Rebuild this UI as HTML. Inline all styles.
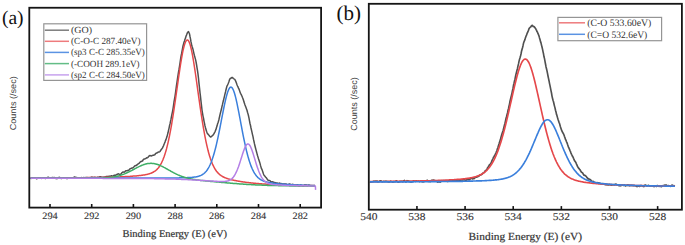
<!DOCTYPE html>
<html><head><meta charset="utf-8"><style>
html,body{margin:0;padding:0;background:#fff;}
body{width:685px;height:245px;overflow:hidden;}
svg{display:block;}
text{font-family:"Liberation Serif",serif;text-rendering:geometricPrecision;fill:#2a2a2a;stroke:#2a2a2a;stroke-width:0.3px;}
.tk{font-size:9.7px;stroke-width:0.12px;fill:#333;stroke:#333;}
.tk2{font-size:10.4px;stroke-width:0.12px;fill:#333;stroke:#333;}
.ax{font-size:10.3px;stroke-width:0.2px;fill:#333;stroke:#333;}
.ax2{font-size:10.9px;stroke-width:0.2px;fill:#333;stroke:#333;}
.yl{font-family:"Liberation Sans",sans-serif;font-size:8.6px;fill:#3a3a3a;stroke:none;}
.yl2{font-family:"Liberation Sans",sans-serif;font-size:8.8px;fill:#3a3a3a;stroke:none;}
.pl{font-size:19.5px;fill:#111;stroke:none;}
.pl2{font-size:21px;fill:#111;stroke:none;}
.lg{font-size:9.4px;stroke:none;fill:#333;}
.lg2{font-size:9.9px;stroke:none;fill:#333;}
</style></head><body>
<svg width="685" height="245" viewBox="0 0 685 245">
<g fill="none" stroke-width="1.50" stroke-linejoin="round">
<path d="M30.5,178.6 L31.0,178.6 L31.5,178.0 L32.0,177.8 L32.5,177.7 L33.0,178.1 L33.5,178.0 L34.0,178.1 L34.5,178.0 L35.0,177.9 L35.5,178.0 L36.0,178.3 L36.5,178.8 L37.0,178.7 L37.5,178.4 L38.0,178.0 L38.5,177.7 L39.0,178.0 L39.5,177.9 L40.0,177.9 L40.5,177.7 L41.0,178.2 L41.5,178.4 L42.0,178.3 L42.5,177.9 L43.0,177.9 L43.5,178.1 L44.0,178.1 L44.5,177.9 L45.0,178.1 L45.5,178.6 L46.0,178.4 L46.5,178.1 L47.0,177.6 L47.5,177.4 L48.0,177.3 L48.5,177.3 L49.0,177.9 L49.5,178.1 L50.0,178.0 L50.5,177.9 L51.0,177.8 L51.5,177.8 L52.0,177.6 L52.5,177.5 L53.0,177.7 L53.5,177.8 L54.0,177.5 L54.5,177.6 L55.0,177.8 L55.5,178.3 L56.0,178.6 L56.5,178.6 L57.0,178.7 L57.5,178.3 L58.0,178.3 L58.5,177.6 L59.0,177.7 L59.5,177.2 L60.0,177.7 L60.5,178.1 L61.0,178.4 L61.5,178.5 L62.0,178.2 L62.5,178.2 L63.0,177.9 L63.5,177.8 L64.0,177.9 L64.5,178.2 L65.0,178.2 L65.5,178.3 L66.0,177.9 L66.5,178.4 L67.0,178.3 L67.5,178.5 L68.0,178.3 L68.5,178.2 L69.0,177.8 L69.5,178.0 L70.0,177.7 L70.5,178.0 L71.0,177.8 L71.5,177.9 L72.0,177.9 L72.5,178.0 L73.0,178.1 L73.5,177.9 L74.0,177.2 L74.5,177.0 L75.0,177.0 L75.5,177.5 L76.0,177.5 L76.5,177.6 L77.0,177.6 L77.5,177.8 L78.0,177.8 L78.5,177.7 L79.0,177.7 L79.5,178.0 L80.0,178.3 L80.5,178.1 L81.0,177.7 L81.5,177.6 L82.0,178.1 L82.5,178.1 L83.0,177.9 L83.5,177.5 L84.0,177.6 L84.5,177.7 L85.0,177.8 L85.5,177.6 L86.0,177.5 L86.5,177.7 L87.0,177.6 L87.5,177.7 L88.0,177.8 L88.5,178.0 L89.0,177.7 L89.5,177.8 L90.0,177.6 L90.5,177.8 L91.0,177.4 L91.5,177.2 L92.0,177.1 L92.5,177.3 L93.0,177.6 L93.5,177.6 L94.0,177.4 L94.5,177.3 L95.0,177.2 L95.5,177.6 L96.0,177.9 L96.5,177.8 L97.0,177.5 L97.5,177.3 L98.0,177.3 L98.5,177.3 L99.0,177.3 L99.5,177.0 L100.0,176.7 L100.5,176.7 L101.0,177.0 L101.5,177.4 L102.0,177.2 L102.5,177.3 L103.0,177.1 L103.5,177.2 L104.0,177.2 L104.5,177.1 L105.0,176.9 L105.5,176.9 L106.0,176.6 L106.5,176.7 L107.0,176.4 L107.5,176.7 L108.0,176.5 L108.5,176.4 L109.0,176.2 L109.5,176.5 L110.0,176.3 L110.5,176.2 L111.0,175.9 L111.5,175.7 L112.0,176.1 L112.5,176.1 L113.0,175.9 L113.5,175.6 L114.0,175.3 L114.5,175.5 L115.0,175.3 L115.5,175.3 L116.0,175.0 L116.5,174.6 L117.0,174.6 L117.5,174.2 L118.0,173.9 L118.5,173.8 L119.0,174.1 L119.5,174.3 L120.0,174.4 L120.5,174.2 L121.0,173.8 L121.5,173.3 L122.0,172.6 L122.5,172.3 L123.0,171.9 L123.5,172.1 L124.0,172.2 L124.5,172.0 L125.0,171.6 L125.5,171.0 L126.0,170.8 L126.5,170.7 L127.0,170.8 L127.5,170.4 L128.0,170.5 L128.5,170.3 L129.0,170.2 L129.5,169.4 L130.0,168.9 L130.5,168.6 L131.0,168.4 L131.5,168.2 L132.0,168.0 L132.5,168.0 L133.0,167.8 L133.5,167.3 L134.0,166.8 L134.5,166.2 L135.0,165.8 L135.5,165.7 L136.0,165.4 L136.5,165.5 L137.0,164.7 L137.5,164.5 L138.0,164.0 L138.5,163.7 L139.0,163.4 L139.5,162.8 L140.0,162.3 L140.5,161.8 L141.0,161.4 L141.5,161.4 L142.0,161.0 L142.5,161.1 L143.0,159.9 L143.5,159.6 L144.0,159.0 L144.5,159.1 L145.0,158.9 L145.5,158.6 L146.0,158.3 L146.5,157.8 L147.0,157.9 L147.5,157.7 L148.0,157.4 L148.5,156.5 L149.0,156.2 L149.5,155.7 L150.0,155.5 L150.5,155.7 L151.0,155.9 L151.5,155.9 L152.0,155.5 L152.5,155.5 L153.0,155.3 L153.5,155.3 L154.0,155.0 L154.5,154.8 L155.0,154.5 L155.5,153.7 L156.0,153.4 L156.5,152.9 L157.0,152.9 L157.5,152.7 L158.0,152.2 L158.5,151.9 L159.0,152.1 L159.5,151.9 L160.0,151.5 L160.5,150.7 L161.0,149.9 L161.5,149.4 L162.0,148.5 L162.5,148.0 L163.0,146.7 L163.5,145.8 L164.0,144.4 L164.5,143.3 L165.0,142.1 L165.5,140.6 L166.0,139.6 L166.5,138.0 L167.0,136.6 L167.5,134.6 L168.0,132.8 L168.5,130.4 L169.0,128.3 L169.5,125.8 L170.0,123.9 L170.5,121.5 L171.0,119.2 L171.5,116.4 L172.0,114.0 L172.5,111.6 L173.0,108.8 L173.5,105.5 L174.0,102.0 L174.5,99.2 L175.0,96.3 L175.5,92.8 L176.0,89.2 L176.5,85.3 L177.0,82.0 L177.5,78.5 L178.0,75.4 L178.5,72.1 L179.0,69.4 L179.5,66.3 L180.0,63.1 L180.5,59.6 L181.0,56.4 L181.5,54.0 L182.0,51.3 L182.5,48.6 L183.0,46.0 L183.5,44.1 L184.0,42.3 L184.5,40.9 L185.0,39.3 L185.5,38.1 L186.0,36.3 L186.5,35.1 L187.0,33.8 L187.5,32.6 L188.0,32.0 L188.5,31.6 L189.0,32.7 L189.5,33.8 L190.0,36.5 L190.5,38.9 L191.0,41.9 L191.5,44.2 L192.0,46.2 L192.5,47.7 L193.0,49.4 L193.5,51.6 L194.0,53.8 L194.5,55.8 L195.0,57.6 L195.5,59.4 L196.0,61.6 L196.5,64.5 L197.0,67.7 L197.5,70.7 L198.0,74.2 L198.5,78.4 L199.0,83.4 L199.5,87.8 L200.0,92.6 L200.5,96.6 L201.0,101.3 L201.5,105.6 L202.0,110.1 L202.5,113.2 L203.0,116.1 L203.5,118.2 L204.0,121.1 L204.5,123.4 L205.0,125.9 L205.5,127.8 L206.0,129.5 L206.5,131.3 L207.0,132.6 L207.5,133.7 L208.0,134.1 L208.5,134.7 L209.0,135.2 L209.5,136.0 L210.0,136.5 L210.5,137.0 L211.0,136.8 L211.5,136.5 L212.0,136.0 L212.5,135.6 L213.0,135.2 L213.5,134.3 L214.0,133.7 L214.5,132.6 L215.0,131.8 L215.5,130.4 L216.0,129.4 L216.5,127.5 L217.0,126.1 L217.5,124.1 L218.0,122.8 L218.5,121.1 L219.0,119.2 L219.5,117.0 L220.0,114.6 L220.5,112.8 L221.0,110.7 L221.5,108.8 L222.0,106.4 L222.5,104.4 L223.0,102.1 L223.5,100.3 L224.0,98.2 L224.5,96.1 L225.0,93.9 L225.5,92.0 L226.0,89.7 L226.5,87.7 L227.0,86.0 L227.5,85.1 L228.0,84.0 L228.5,82.8 L229.0,81.4 L229.5,79.8 L230.0,78.8 L230.5,78.3 L231.0,78.2 L231.5,77.7 L232.0,77.5 L232.5,77.4 L233.0,78.2 L233.5,78.6 L234.0,78.9 L234.5,79.1 L235.0,79.8 L235.5,80.7 L236.0,81.9 L236.5,83.3 L237.0,84.7 L237.5,86.0 L238.0,86.9 L238.5,88.1 L239.0,89.1 L239.5,90.5 L240.0,91.9 L240.5,93.3 L241.0,94.2 L241.5,95.2 L242.0,96.3 L242.5,97.6 L243.0,98.7 L243.5,100.3 L244.0,102.1 L244.5,103.5 L245.0,104.9 L245.5,106.2 L246.0,107.5 L246.5,108.9 L247.0,110.3 L247.5,112.3 L248.0,113.9 L248.5,115.8 L249.0,118.1 L249.5,120.8 L250.0,123.5 L250.5,125.5 L251.0,128.0 L251.5,130.2 L252.0,132.4 L252.5,134.6 L253.0,136.7 L253.5,139.4 L254.0,141.5 L254.5,143.9 L255.0,146.0 L255.5,148.0 L256.0,149.9 L256.5,151.8 L257.0,153.6 L257.5,155.5 L258.0,157.1 L258.5,158.8 L259.0,160.2 L259.5,161.7 L260.0,163.4 L260.5,165.4 L261.0,167.1 L261.5,168.7 L262.0,169.6 L262.5,171.0 L263.0,172.5 L263.5,174.0 L264.0,175.1 L264.5,175.8 L265.0,176.3 L265.5,177.0 L266.0,177.5 L266.5,178.1 L267.0,178.8 L267.5,179.6 L268.0,180.2 L268.5,180.5 L269.0,180.4 L269.5,180.6 L270.0,180.7 L270.5,181.3 L271.0,181.6 L271.5,182.1 L272.0,182.0 L272.5,181.8 L273.0,181.9 L273.5,182.4 L274.0,182.5 L274.5,182.5 L275.0,182.6 L275.5,182.8 L276.0,183.2 L276.5,183.0 L277.0,183.1 L277.5,183.1 L278.0,183.3 L278.5,183.5 L279.0,183.5 L279.5,183.1 L280.0,183.7 L280.5,183.4 L281.0,183.9 L281.5,183.6 L282.0,183.9 L282.5,184.0 L283.0,184.0 L283.5,184.1 L284.0,184.0 L284.5,184.1 L285.0,183.9 L285.5,183.9 L286.0,183.9 L286.5,184.2 L287.0,184.4 L287.5,184.8 L288.0,184.7 L288.5,184.6 L289.0,184.1 L289.5,183.9 L290.0,184.2 L290.5,184.6 L291.0,184.6 L291.5,184.8 L292.0,184.5 L292.5,184.5 L293.0,184.3 L293.5,185.1 L294.0,185.4 L294.5,185.3 L295.0,185.0 L295.5,185.1 L296.0,185.5 L296.5,185.3 L297.0,185.1 L297.5,185.0 L298.0,185.2 L298.5,185.6 L299.0,186.0 L299.5,185.8 L300.0,185.5 L300.5,185.1 L301.0,185.2 L301.5,185.4 L302.0,185.6 L302.5,185.7 L303.0,185.9 L303.5,185.8 L304.0,185.6 L304.5,185.0 L305.0,184.9 L305.5,184.9 L306.0,184.9 L306.5,185.2 L307.0,185.5 L307.5,185.8 L308.0,185.5 L308.5,185.2 L309.0,185.1 L309.5,185.6 L310.0,185.5 L310.5,185.8 L311.0,185.6 L311.5,186.0 L312.0,186.0 L312.5,186.0 L313.0,185.8 L313.5,185.9 L314.0,186.1 L314.5,186.1 L315.0,186.0" stroke="#505050"/>
<path d="M30.5,178.0 L31.0,178.0 L31.5,178.0 L32.0,178.0 L32.5,178.0 L33.0,178.0 L33.5,178.0 L34.0,178.0 L34.5,178.0 L35.0,178.0 L35.5,178.0 L36.0,178.0 L36.5,178.0 L37.0,178.0 L37.5,178.0 L38.0,178.0 L38.5,178.0 L39.0,178.0 L39.5,178.0 L40.0,178.0 L40.5,178.0 L41.0,178.0 L41.5,178.0 L42.0,178.0 L42.5,178.0 L43.0,178.0 L43.5,178.0 L44.0,178.0 L44.5,178.0 L45.0,178.0 L45.5,178.0 L46.0,178.0 L46.5,178.0 L47.0,178.0 L47.5,178.0 L48.0,178.0 L48.5,178.0 L49.0,178.0 L49.5,178.0 L50.0,178.0 L50.5,178.0 L51.0,178.0 L51.5,178.0 L52.0,177.9 L52.5,177.9 L53.0,177.9 L53.5,177.9 L54.0,177.9 L54.5,177.9 L55.0,177.9 L55.5,177.9 L56.0,177.9 L56.5,177.9 L57.0,177.9 L57.5,177.9 L58.0,177.9 L58.5,177.9 L59.0,177.9 L59.5,177.9 L60.0,177.9 L60.5,177.9 L61.0,177.9 L61.5,177.9 L62.0,177.9 L62.5,177.9 L63.0,177.9 L63.5,177.9 L64.0,177.9 L64.5,177.9 L65.0,177.9 L65.5,177.9 L66.0,177.9 L66.5,177.9 L67.0,177.8 L67.5,177.8 L68.0,177.8 L68.5,177.8 L69.0,177.8 L69.5,177.8 L70.0,177.8 L70.5,177.8 L71.0,177.8 L71.5,177.8 L72.0,177.8 L72.5,177.8 L73.0,177.8 L73.5,177.8 L74.0,177.8 L74.5,177.8 L75.0,177.8 L75.5,177.8 L76.0,177.8 L76.5,177.8 L77.0,177.8 L77.5,177.8 L78.0,177.7 L78.5,177.7 L79.0,177.7 L79.5,177.7 L80.0,177.7 L80.5,177.7 L81.0,177.7 L81.5,177.7 L82.0,177.7 L82.5,177.7 L83.0,177.7 L83.5,177.7 L84.0,177.7 L84.5,177.7 L85.0,177.7 L85.5,177.7 L86.0,177.7 L86.5,177.7 L87.0,177.6 L87.5,177.6 L88.0,177.6 L88.5,177.6 L89.0,177.6 L89.5,177.6 L90.0,177.6 L90.5,177.6 L91.0,177.6 L91.5,177.6 L92.0,177.6 L92.5,177.6 L93.0,177.6 L93.5,177.5 L94.0,177.5 L94.5,177.5 L95.0,177.5 L95.5,177.5 L96.0,177.5 L96.5,177.5 L97.0,177.5 L97.5,177.5 L98.0,177.5 L98.5,177.5 L99.0,177.5 L99.5,177.4 L100.0,177.4 L100.5,177.4 L101.0,177.4 L101.5,177.4 L102.0,177.4 L102.5,177.4 L103.0,177.4 L103.5,177.4 L104.0,177.4 L104.5,177.3 L105.0,177.3 L105.5,177.3 L106.0,177.3 L106.5,177.3 L107.0,177.3 L107.5,177.3 L108.0,177.3 L108.5,177.2 L109.0,177.2 L109.5,177.2 L110.0,177.2 L110.5,177.2 L111.0,177.2 L111.5,177.2 L112.0,177.1 L112.5,177.1 L113.0,177.1 L113.5,177.1 L114.0,177.1 L114.5,177.1 L115.0,177.1 L115.5,177.0 L116.0,177.0 L116.5,177.0 L117.0,177.0 L117.5,177.0 L118.0,176.9 L118.5,176.9 L119.0,176.9 L119.5,176.9 L120.0,176.9 L120.5,176.8 L121.0,176.8 L121.5,176.8 L122.0,176.8 L122.5,176.8 L123.0,176.7 L123.5,176.7 L124.0,176.7 L124.5,176.7 L125.0,176.6 L125.5,176.6 L126.0,176.6 L126.5,176.6 L127.0,176.5 L127.5,176.5 L128.0,176.5 L128.5,176.4 L129.0,176.4 L129.5,176.4 L130.0,176.4 L130.5,176.3 L131.0,176.3 L131.5,176.3 L132.0,176.2 L132.5,176.2 L133.0,176.1 L133.5,176.1 L134.0,176.1 L134.5,176.0 L135.0,176.0 L135.5,175.9 L136.0,175.9 L136.5,175.9 L137.0,175.8 L137.5,175.8 L138.0,175.7 L138.5,175.7 L139.0,175.6 L139.5,175.6 L140.0,175.5 L140.5,175.4 L141.0,175.4 L141.5,175.3 L142.0,175.2 L142.5,175.2 L143.0,175.1 L143.5,175.0 L144.0,174.9 L144.5,174.9 L145.0,174.8 L145.5,174.7 L146.0,174.6 L146.5,174.5 L147.0,174.4 L147.5,174.3 L148.0,174.1 L148.5,174.0 L149.0,173.9 L149.5,173.7 L150.0,173.6 L150.5,173.4 L151.0,173.2 L151.5,173.0 L152.0,172.8 L152.5,172.5 L153.0,172.3 L153.5,172.0 L154.0,171.7 L154.5,171.4 L155.0,171.1 L155.5,170.7 L156.0,170.3 L156.5,169.8 L157.0,169.4 L157.5,168.8 L158.0,168.3 L158.5,167.7 L159.0,167.0 L159.5,166.3 L160.0,165.5 L160.5,164.7 L161.0,163.8 L161.5,162.9 L162.0,161.8 L162.5,160.7 L163.0,159.6 L163.5,158.3 L164.0,157.0 L164.5,155.5 L165.0,154.0 L165.5,152.4 L166.0,150.7 L166.5,148.9 L167.0,146.9 L167.5,144.9 L168.0,142.8 L168.5,140.6 L169.0,138.2 L169.5,135.8 L170.0,133.2 L170.5,130.6 L171.0,127.8 L171.5,125.0 L172.0,122.0 L172.5,119.0 L173.0,115.9 L173.5,112.7 L174.0,109.4 L174.5,106.0 L175.0,102.6 L175.5,99.2 L176.0,95.7 L176.5,92.2 L177.0,88.6 L177.5,85.1 L178.0,81.6 L178.5,78.1 L179.0,74.7 L179.5,71.3 L180.0,68.0 L180.5,64.7 L181.0,61.6 L181.5,58.7 L182.0,55.9 L182.5,53.2 L183.0,50.7 L183.5,48.5 L184.0,46.5 L184.5,44.7 L185.0,43.2 L185.5,42.0 L186.0,41.0 L186.5,40.4 L187.0,40.0 L187.5,40.0 L188.0,40.2 L188.5,40.8 L189.0,41.7 L189.5,42.9 L190.0,44.3 L190.5,46.0 L191.0,48.0 L191.5,50.2 L192.0,52.6 L192.5,55.2 L193.0,58.0 L193.5,61.0 L194.0,64.1 L194.5,67.3 L195.0,70.6 L195.5,74.0 L196.0,77.5 L196.5,81.0 L197.0,84.6 L197.5,88.2 L198.0,91.8 L198.5,95.3 L199.0,98.9 L199.5,102.4 L200.0,105.9 L200.5,109.3 L201.0,112.7 L201.5,116.0 L202.0,119.2 L202.5,122.3 L203.0,125.4 L203.5,128.3 L204.0,131.2 L204.5,133.9 L205.0,136.6 L205.5,139.1 L206.0,141.6 L206.5,143.9 L207.0,146.1 L207.5,148.2 L208.0,150.3 L208.5,152.2 L209.0,154.0 L209.5,155.7 L210.0,157.3 L210.5,158.9 L211.0,160.3 L211.5,161.6 L212.0,162.9 L212.5,164.1 L213.0,165.2 L213.5,166.2 L214.0,167.2 L214.5,168.1 L215.0,169.0 L215.5,169.8 L216.0,170.5 L216.5,171.2 L217.0,171.8 L217.5,172.4 L218.0,172.9 L218.5,173.5 L219.0,173.9 L219.5,174.4 L220.0,174.8 L220.5,175.2 L221.0,175.5 L221.5,175.9 L222.0,176.2 L222.5,176.5 L223.0,176.8 L223.5,177.0 L224.0,177.3 L224.5,177.5 L225.0,177.7 L225.5,177.9 L226.0,178.1 L226.5,178.3 L227.0,178.5 L227.5,178.6 L228.0,178.8 L228.5,178.9 L229.0,179.1 L229.5,179.2 L230.0,179.4 L230.5,179.5 L231.0,179.6 L231.5,179.8 L232.0,179.9 L232.5,180.0 L233.0,180.1 L233.5,180.2 L234.0,180.3 L234.5,180.4 L235.0,180.5 L235.5,180.6 L236.0,180.7 L236.5,180.8 L237.0,180.9 L237.5,181.0 L238.0,181.1 L238.5,181.2 L239.0,181.3 L239.5,181.3 L240.0,181.4 L240.5,181.5 L241.0,181.6 L241.5,181.7 L242.0,181.7 L242.5,181.8 L243.0,181.9 L243.5,182.0 L244.0,182.0 L244.5,182.1 L245.0,182.2 L245.5,182.2 L246.0,182.3 L246.5,182.4 L247.0,182.4 L247.5,182.5 L248.0,182.6 L248.5,182.6 L249.0,182.7 L249.5,182.7 L250.0,182.8 L250.5,182.8 L251.0,182.9 L251.5,182.9 L252.0,183.0 L252.5,183.1 L253.0,183.1 L253.5,183.2 L254.0,183.2 L254.5,183.3 L255.0,183.3 L255.5,183.3 L256.0,183.4 L256.5,183.4 L257.0,183.5 L257.5,183.5 L258.0,183.6 L258.5,183.6 L259.0,183.7 L259.5,183.7 L260.0,183.7 L260.5,183.8 L261.0,183.8 L261.5,183.8 L262.0,183.9 L262.5,183.9 L263.0,184.0 L263.5,184.0 L264.0,184.0 L264.5,184.1 L265.0,184.1 L265.5,184.1 L266.0,184.2 L266.5,184.2 L267.0,184.2 L267.5,184.2 L268.0,184.3 L268.5,184.3 L269.0,184.3 L269.5,184.4 L270.0,184.4 L270.5,184.4 L271.0,184.4 L271.5,184.5 L272.0,184.5 L272.5,184.5 L273.0,184.5 L273.5,184.6 L274.0,184.6 L274.5,184.6 L275.0,184.6 L275.5,184.7 L276.0,184.7 L276.5,184.7 L277.0,184.7 L277.5,184.8 L278.0,184.8 L278.5,184.8 L279.0,184.8 L279.5,184.8 L280.0,184.9 L280.5,184.9 L281.0,184.9 L281.5,184.9 L282.0,184.9 L282.5,184.9 L283.0,185.0 L283.5,185.0 L284.0,185.0 L284.5,185.0 L285.0,185.0 L285.5,185.0 L286.0,185.1 L286.5,185.1 L287.0,185.1 L287.5,185.1 L288.0,185.1 L288.5,185.1 L289.0,185.2 L289.5,185.2 L290.0,185.2 L290.5,185.2 L291.0,185.2 L291.5,185.2 L292.0,185.2 L292.5,185.2 L293.0,185.3 L293.5,185.3 L294.0,185.3 L294.5,185.3 L295.0,185.3 L295.5,185.3 L296.0,185.3 L296.5,185.3 L297.0,185.3 L297.5,185.4 L298.0,185.4 L298.5,185.4 L299.0,185.4 L299.5,185.4 L300.0,185.4 L300.5,185.4 L301.0,185.4 L301.5,185.4 L302.0,185.4 L302.5,185.5 L303.0,185.5 L303.5,185.5 L304.0,185.5 L304.5,185.5 L305.0,185.5 L305.5,185.5 L306.0,185.5 L306.5,185.5 L307.0,185.5 L307.5,185.5 L308.0,185.5 L308.5,185.5 L309.0,185.6 L309.5,185.6 L310.0,185.6 L310.5,185.6 L311.0,185.6 L311.5,185.6 L312.0,185.6 L312.5,185.6 L313.0,185.6 L313.5,185.6 L314.0,185.6 L314.5,185.6 L315.0,185.6" stroke="#e5484b"/>
<path d="M30.5,178.2 L31.0,178.2 L31.5,178.2 L32.0,178.2 L32.5,178.2 L33.0,178.2 L33.5,178.2 L34.0,178.2 L34.5,178.2 L35.0,178.2 L35.5,178.2 L36.0,178.2 L36.5,178.2 L37.0,178.2 L37.5,178.2 L38.0,178.2 L38.5,178.2 L39.0,178.2 L39.5,178.2 L40.0,178.2 L40.5,178.2 L41.0,178.2 L41.5,178.2 L42.0,178.2 L42.5,178.2 L43.0,178.2 L43.5,178.2 L44.0,178.2 L44.5,178.2 L45.0,178.2 L45.5,178.2 L46.0,178.2 L46.5,178.2 L47.0,178.2 L47.5,178.2 L48.0,178.2 L48.5,178.2 L49.0,178.2 L49.5,178.2 L50.0,178.2 L50.5,178.2 L51.0,178.2 L51.5,178.2 L52.0,178.2 L52.5,178.2 L53.0,178.2 L53.5,178.2 L54.0,178.2 L54.5,178.2 L55.0,178.2 L55.5,178.2 L56.0,178.2 L56.5,178.2 L57.0,178.2 L57.5,178.2 L58.0,178.2 L58.5,178.2 L59.0,178.2 L59.5,178.2 L60.0,178.2 L60.5,178.2 L61.0,178.2 L61.5,178.2 L62.0,178.2 L62.5,178.2 L63.0,178.2 L63.5,178.2 L64.0,178.2 L64.5,178.2 L65.0,178.2 L65.5,178.2 L66.0,178.2 L66.5,178.2 L67.0,178.2 L67.5,178.2 L68.0,178.2 L68.5,178.2 L69.0,178.2 L69.5,178.2 L70.0,178.2 L70.5,178.2 L71.0,178.2 L71.5,178.2 L72.0,178.2 L72.5,178.2 L73.0,178.2 L73.5,178.2 L74.0,178.2 L74.5,178.2 L75.0,178.2 L75.5,178.2 L76.0,178.2 L76.5,178.2 L77.0,178.2 L77.5,178.2 L78.0,178.2 L78.5,178.2 L79.0,178.2 L79.5,178.2 L80.0,178.2 L80.5,178.2 L81.0,178.2 L81.5,178.2 L82.0,178.2 L82.5,178.2 L83.0,178.2 L83.5,178.2 L84.0,178.2 L84.5,178.2 L85.0,178.2 L85.5,178.2 L86.0,178.2 L86.5,178.2 L87.0,178.1 L87.5,178.1 L88.0,178.1 L88.5,178.1 L89.0,178.1 L89.5,178.1 L90.0,178.1 L90.5,178.1 L91.0,178.1 L91.5,178.1 L92.0,178.1 L92.5,178.1 L93.0,178.1 L93.5,178.1 L94.0,178.1 L94.5,178.1 L95.0,178.1 L95.5,178.1 L96.0,178.1 L96.5,178.1 L97.0,178.1 L97.5,178.1 L98.0,178.1 L98.5,178.1 L99.0,178.1 L99.5,178.1 L100.0,178.1 L100.5,178.1 L101.0,178.1 L101.5,178.1 L102.0,178.1 L102.5,178.1 L103.0,178.1 L103.5,178.1 L104.0,178.1 L104.5,178.1 L105.0,178.1 L105.5,178.1 L106.0,178.1 L106.5,178.1 L107.0,178.1 L107.5,178.1 L108.0,178.1 L108.5,178.1 L109.0,178.1 L109.5,178.1 L110.0,178.1 L110.5,178.1 L111.0,178.1 L111.5,178.1 L112.0,178.1 L112.5,178.1 L113.0,178.1 L113.5,178.1 L114.0,178.1 L114.5,178.1 L115.0,178.1 L115.5,178.1 L116.0,178.1 L116.5,178.1 L117.0,178.1 L117.5,178.1 L118.0,178.1 L118.5,178.1 L119.0,178.1 L119.5,178.1 L120.0,178.1 L120.5,178.1 L121.0,178.1 L121.5,178.1 L122.0,178.1 L122.5,178.1 L123.0,178.1 L123.5,178.1 L124.0,178.1 L124.5,178.1 L125.0,178.1 L125.5,178.1 L126.0,178.1 L126.5,178.1 L127.0,178.1 L127.5,178.1 L128.0,178.1 L128.5,178.1 L129.0,178.0 L129.5,178.0 L130.0,178.0 L130.5,178.0 L131.0,178.0 L131.5,178.0 L132.0,178.0 L132.5,178.0 L133.0,178.0 L133.5,178.0 L134.0,178.0 L134.5,178.0 L135.0,178.0 L135.5,178.0 L136.0,178.0 L136.5,178.0 L137.0,178.0 L137.5,178.0 L138.0,178.0 L138.5,178.0 L139.0,178.0 L139.5,178.0 L140.0,178.0 L140.5,178.0 L141.0,178.0 L141.5,178.0 L142.0,178.0 L142.5,178.0 L143.0,178.0 L143.5,178.0 L144.0,178.0 L144.5,178.0 L145.0,178.0 L145.5,178.0 L146.0,178.0 L146.5,178.0 L147.0,178.0 L147.5,178.0 L148.0,178.0 L148.5,178.0 L149.0,178.0 L149.5,178.0 L150.0,178.0 L150.5,178.0 L151.0,178.0 L151.5,178.0 L152.0,178.0 L152.5,178.0 L153.0,178.0 L153.5,178.0 L154.0,178.0 L154.5,178.0 L155.0,178.0 L155.5,178.0 L156.0,178.0 L156.5,178.0 L157.0,178.0 L157.5,178.0 L158.0,178.0 L158.5,178.0 L159.0,178.0 L159.5,178.0 L160.0,178.0 L160.5,178.0 L161.0,178.0 L161.5,178.0 L162.0,178.0 L162.5,178.0 L163.0,178.0 L163.5,178.0 L164.0,178.0 L164.5,178.0 L165.0,178.0 L165.5,178.0 L166.0,178.0 L166.5,178.0 L167.0,178.0 L167.5,178.0 L168.0,178.0 L168.5,177.9 L169.0,177.9 L169.5,177.9 L170.0,177.9 L170.5,177.9 L171.0,177.9 L171.5,177.9 L172.0,177.9 L172.5,177.9 L173.0,177.9 L173.5,177.9 L174.0,177.9 L174.5,177.9 L175.0,177.9 L175.5,177.9 L176.0,177.9 L176.5,177.9 L177.0,177.9 L177.5,177.9 L178.0,177.9 L178.5,177.9 L179.0,177.9 L179.5,177.8 L180.0,177.8 L180.5,177.8 L181.0,177.8 L181.5,177.8 L182.0,177.8 L182.5,177.8 L183.0,177.8 L183.5,177.8 L184.0,177.8 L184.5,177.7 L185.0,177.7 L185.5,177.7 L186.0,177.7 L186.5,177.7 L187.0,177.7 L187.5,177.6 L188.0,177.6 L188.5,177.6 L189.0,177.6 L189.5,177.5 L190.0,177.5 L190.5,177.5 L191.0,177.4 L191.5,177.4 L192.0,177.4 L192.5,177.3 L193.0,177.3 L193.5,177.2 L194.0,177.1 L194.5,177.1 L195.0,177.0 L195.5,176.9 L196.0,176.9 L196.5,176.8 L197.0,176.7 L197.5,176.5 L198.0,176.4 L198.5,176.3 L199.0,176.1 L199.5,176.0 L200.0,175.8 L200.5,175.6 L201.0,175.4 L201.5,175.1 L202.0,174.8 L202.5,174.5 L203.0,174.2 L203.5,173.9 L204.0,173.5 L204.5,173.0 L205.0,172.6 L205.5,172.0 L206.0,171.5 L206.5,170.9 L207.0,170.2 L207.5,169.5 L208.0,168.7 L208.5,167.9 L209.0,167.0 L209.5,166.0 L210.0,165.0 L210.5,163.8 L211.0,162.7 L211.5,161.4 L212.0,160.0 L212.5,158.6 L213.0,157.1 L213.5,155.5 L214.0,153.8 L214.5,152.0 L215.0,150.1 L215.5,148.2 L216.0,146.2 L216.5,144.1 L217.0,141.9 L217.5,139.6 L218.0,137.3 L218.5,134.9 L219.0,132.5 L219.5,130.0 L220.0,127.5 L220.5,124.9 L221.0,122.3 L221.5,119.7 L222.0,117.2 L222.5,114.6 L223.0,112.0 L223.5,109.5 L224.0,107.0 L224.5,104.6 L225.0,102.3 L225.5,100.1 L226.0,98.0 L226.5,96.1 L227.0,94.3 L227.5,92.6 L228.0,91.2 L228.5,89.9 L229.0,88.9 L229.5,88.1 L230.0,87.5 L230.5,87.2 L231.0,87.1 L231.5,87.3 L232.0,87.7 L232.5,88.4 L233.0,89.3 L233.5,90.4 L234.0,91.7 L234.5,93.3 L235.0,95.0 L235.5,96.9 L236.0,98.9 L236.5,101.1 L237.0,103.4 L237.5,105.8 L238.0,108.3 L238.5,110.8 L239.0,113.4 L239.5,116.1 L240.0,118.7 L240.5,121.4 L241.0,124.1 L241.5,126.7 L242.0,129.4 L242.5,132.0 L243.0,134.6 L243.5,137.1 L244.0,139.5 L244.5,141.9 L245.0,144.2 L245.5,146.5 L246.0,148.7 L246.5,150.8 L247.0,152.8 L247.5,154.7 L248.0,156.6 L248.5,158.3 L249.0,160.0 L249.5,161.6 L250.0,163.1 L250.5,164.5 L251.0,165.9 L251.5,167.1 L252.0,168.3 L252.5,169.4 L253.0,170.4 L253.5,171.4 L254.0,172.3 L254.5,173.2 L255.0,173.9 L255.5,174.7 L256.0,175.3 L256.5,176.0 L257.0,176.5 L257.5,177.1 L258.0,177.6 L258.5,178.0 L259.0,178.4 L259.5,178.8 L260.0,179.2 L260.5,179.5 L261.0,179.8 L261.5,180.1 L262.0,180.3 L262.5,180.6 L263.0,180.8 L263.5,181.0 L264.0,181.2 L264.5,181.4 L265.0,181.5 L265.5,181.7 L266.0,181.8 L266.5,182.0 L267.0,182.1 L267.5,182.2 L268.0,182.3 L268.5,182.4 L269.0,182.5 L269.5,182.6 L270.0,182.7 L270.5,182.8 L271.0,182.9 L271.5,183.0 L272.0,183.0 L272.5,183.1 L273.0,183.2 L273.5,183.3 L274.0,183.3 L274.5,183.4 L275.0,183.4 L275.5,183.5 L276.0,183.6 L276.5,183.6 L277.0,183.7 L277.5,183.7 L278.0,183.8 L278.5,183.8 L279.0,183.9 L279.5,183.9 L280.0,184.0 L280.5,184.0 L281.0,184.0 L281.5,184.1 L282.0,184.1 L282.5,184.2 L283.0,184.2 L283.5,184.2 L284.0,184.3 L284.5,184.3 L285.0,184.3 L285.5,184.4 L286.0,184.4 L286.5,184.4 L287.0,184.5 L287.5,184.5 L288.0,184.5 L288.5,184.6 L289.0,184.6 L289.5,184.6 L290.0,184.6 L290.5,184.7 L291.0,184.7 L291.5,184.7 L292.0,184.7 L292.5,184.8 L293.0,184.8 L293.5,184.8 L294.0,184.8 L294.5,184.9 L295.0,184.9 L295.5,184.9 L296.0,184.9 L296.5,184.9 L297.0,185.0 L297.5,185.0 L298.0,185.0 L298.5,185.0 L299.0,185.0 L299.5,185.1 L300.0,185.1 L300.5,185.1 L301.0,185.1 L301.5,185.1 L302.0,185.1 L302.5,185.2 L303.0,185.2 L303.5,185.2 L304.0,185.2 L304.5,185.2 L305.0,185.2 L305.5,185.2 L306.0,185.3 L306.5,185.3 L307.0,185.3 L307.5,185.3 L308.0,185.3 L308.5,185.3 L309.0,185.3 L309.5,185.3 L310.0,185.4 L310.5,185.4 L311.0,185.4 L311.5,185.4 L312.0,185.4 L312.5,185.4 L313.0,185.4 L313.5,185.4 L314.0,185.4 L314.5,185.5 L315.0,185.5" stroke="#3a7fdc"/>
<path d="M30.5,178.3 L31.0,178.3 L31.5,178.3 L32.0,178.3 L32.5,178.3 L33.0,178.3 L33.5,178.3 L34.0,178.3 L34.5,178.3 L35.0,178.3 L35.5,178.3 L36.0,178.3 L36.5,178.3 L37.0,178.3 L37.5,178.3 L38.0,178.3 L38.5,178.3 L39.0,178.3 L39.5,178.3 L40.0,178.3 L40.5,178.3 L41.0,178.3 L41.5,178.3 L42.0,178.3 L42.5,178.3 L43.0,178.3 L43.5,178.3 L44.0,178.3 L44.5,178.3 L45.0,178.3 L45.5,178.3 L46.0,178.3 L46.5,178.3 L47.0,178.3 L47.5,178.3 L48.0,178.3 L48.5,178.3 L49.0,178.3 L49.5,178.3 L50.0,178.3 L50.5,178.3 L51.0,178.3 L51.5,178.3 L52.0,178.3 L52.5,178.3 L53.0,178.3 L53.5,178.3 L54.0,178.3 L54.5,178.3 L55.0,178.3 L55.5,178.3 L56.0,178.3 L56.5,178.3 L57.0,178.3 L57.5,178.3 L58.0,178.3 L58.5,178.3 L59.0,178.3 L59.5,178.3 L60.0,178.3 L60.5,178.3 L61.0,178.3 L61.5,178.3 L62.0,178.3 L62.5,178.3 L63.0,178.3 L63.5,178.3 L64.0,178.3 L64.5,178.3 L65.0,178.3 L65.5,178.3 L66.0,178.3 L66.5,178.3 L67.0,178.3 L67.5,178.3 L68.0,178.3 L68.5,178.3 L69.0,178.3 L69.5,178.3 L70.0,178.3 L70.5,178.3 L71.0,178.3 L71.5,178.3 L72.0,178.3 L72.5,178.3 L73.0,178.3 L73.5,178.3 L74.0,178.3 L74.5,178.3 L75.0,178.3 L75.5,178.3 L76.0,178.3 L76.5,178.3 L77.0,178.3 L77.5,178.3 L78.0,178.3 L78.5,178.3 L79.0,178.3 L79.5,178.3 L80.0,178.3 L80.5,178.3 L81.0,178.3 L81.5,178.3 L82.0,178.3 L82.5,178.3 L83.0,178.3 L83.5,178.3 L84.0,178.3 L84.5,178.3 L85.0,178.3 L85.5,178.3 L86.0,178.3 L86.5,178.3 L87.0,178.3 L87.5,178.3 L88.0,178.3 L88.5,178.3 L89.0,178.3 L89.5,178.3 L90.0,178.3 L90.5,178.3 L91.0,178.3 L91.5,178.3 L92.0,178.3 L92.5,178.3 L93.0,178.3 L93.5,178.3 L94.0,178.3 L94.5,178.3 L95.0,178.3 L95.5,178.2 L96.0,178.2 L96.5,178.2 L97.0,178.2 L97.5,178.2 L98.0,178.2 L98.5,178.2 L99.0,178.2 L99.5,178.2 L100.0,178.2 L100.5,178.1 L101.0,178.1 L101.5,178.1 L102.0,178.1 L102.5,178.1 L103.0,178.0 L103.5,178.0 L104.0,178.0 L104.5,178.0 L105.0,177.9 L105.5,177.9 L106.0,177.9 L106.5,177.8 L107.0,177.8 L107.5,177.7 L108.0,177.7 L108.5,177.7 L109.0,177.6 L109.5,177.5 L110.0,177.5 L110.5,177.4 L111.0,177.4 L111.5,177.3 L112.0,177.2 L112.5,177.2 L113.0,177.1 L113.5,177.0 L114.0,176.9 L114.5,176.8 L115.0,176.7 L115.5,176.6 L116.0,176.5 L116.5,176.4 L117.0,176.3 L117.5,176.2 L118.0,176.0 L118.5,175.9 L119.0,175.8 L119.5,175.6 L120.0,175.5 L120.5,175.3 L121.0,175.1 L121.5,175.0 L122.0,174.8 L122.5,174.6 L123.0,174.4 L123.5,174.3 L124.0,174.1 L124.5,173.9 L125.0,173.7 L125.5,173.4 L126.0,173.2 L126.5,173.0 L127.0,172.8 L127.5,172.5 L128.0,172.3 L128.5,172.1 L129.0,171.8 L129.5,171.6 L130.0,171.3 L130.5,171.1 L131.0,170.8 L131.5,170.6 L132.0,170.3 L132.5,170.0 L133.0,169.8 L133.5,169.5 L134.0,169.2 L134.5,169.0 L135.0,168.7 L135.5,168.4 L136.0,168.2 L136.5,167.9 L137.0,167.6 L137.5,167.4 L138.0,167.1 L138.5,166.9 L139.0,166.6 L139.5,166.4 L140.0,166.2 L140.5,165.9 L141.0,165.7 L141.5,165.5 L142.0,165.3 L142.5,165.1 L143.0,164.9 L143.5,164.7 L144.0,164.5 L144.5,164.4 L145.0,164.2 L145.5,164.1 L146.0,164.0 L146.5,163.8 L147.0,163.7 L147.5,163.6 L148.0,163.6 L148.5,163.5 L149.0,163.4 L149.5,163.4 L150.0,163.4 L150.5,163.3 L151.0,163.3 L151.5,163.3 L152.0,163.4 L152.5,163.4 L153.0,163.5 L153.5,163.5 L154.0,163.6 L154.5,163.7 L155.0,163.8 L155.5,163.9 L156.0,164.0 L156.5,164.2 L157.0,164.3 L157.5,164.5 L158.0,164.6 L158.5,164.8 L159.0,165.0 L159.5,165.2 L160.0,165.4 L160.5,165.6 L161.0,165.9 L161.5,166.1 L162.0,166.3 L162.5,166.6 L163.0,166.8 L163.5,167.1 L164.0,167.4 L164.5,167.6 L165.0,167.9 L165.5,168.2 L166.0,168.5 L166.5,168.7 L167.0,169.0 L167.5,169.3 L168.0,169.6 L168.5,169.9 L169.0,170.2 L169.5,170.4 L170.0,170.7 L170.5,171.0 L171.0,171.3 L171.5,171.6 L172.0,171.8 L172.5,172.1 L173.0,172.4 L173.5,172.7 L174.0,172.9 L174.5,173.2 L175.0,173.4 L175.5,173.7 L176.0,173.9 L176.5,174.2 L177.0,174.4 L177.5,174.6 L178.0,174.9 L178.5,175.1 L179.0,175.3 L179.5,175.5 L180.0,175.7 L180.5,175.9 L181.0,176.1 L181.5,176.3 L182.0,176.5 L182.5,176.7 L183.0,176.8 L183.5,177.0 L184.0,177.2 L184.5,177.3 L185.0,177.5 L185.5,177.6 L186.0,177.8 L186.5,177.9 L187.0,178.0 L187.5,178.2 L188.0,178.3 L188.5,178.4 L189.0,178.5 L189.5,178.6 L190.0,178.7 L190.5,178.8 L191.0,178.9 L191.5,179.0 L192.0,179.1 L192.5,179.2 L193.0,179.3 L193.5,179.4 L194.0,179.5 L194.5,179.6 L195.0,179.6 L195.5,179.7 L196.0,179.8 L196.5,179.9 L197.0,179.9 L197.5,180.0 L198.0,180.1 L198.5,180.1 L199.0,180.2 L199.5,180.2 L200.0,180.3 L200.5,180.4 L201.0,180.4 L201.5,180.5 L202.0,180.5 L202.5,180.6 L203.0,180.6 L203.5,180.7 L204.0,180.7 L204.5,180.8 L205.0,180.8 L205.5,180.9 L206.0,180.9 L206.5,181.0 L207.0,181.0 L207.5,181.1 L208.0,181.1 L208.5,181.2 L209.0,181.2 L209.5,181.3 L210.0,181.3 L210.5,181.4 L211.0,181.4 L211.5,181.5 L212.0,181.5 L212.5,181.6 L213.0,181.6 L213.5,181.6 L214.0,181.7 L214.5,181.7 L215.0,181.8 L215.5,181.8 L216.0,181.9 L216.5,181.9 L217.0,182.0 L217.5,182.0 L218.0,182.1 L218.5,182.1 L219.0,182.1 L219.5,182.2 L220.0,182.2 L220.5,182.3 L221.0,182.3 L221.5,182.4 L222.0,182.4 L222.5,182.5 L223.0,182.5 L223.5,182.6 L224.0,182.6 L224.5,182.6 L225.0,182.7 L225.5,182.7 L226.0,182.8 L226.5,182.8 L227.0,182.9 L227.5,182.9 L228.0,182.9 L228.5,183.0 L229.0,183.0 L229.5,183.1 L230.0,183.1 L230.5,183.2 L231.0,183.2 L231.5,183.2 L232.0,183.3 L232.5,183.3 L233.0,183.4 L233.5,183.4 L234.0,183.4 L234.5,183.5 L235.0,183.5 L235.5,183.6 L236.0,183.6 L236.5,183.6 L237.0,183.7 L237.5,183.7 L238.0,183.8 L238.5,183.8 L239.0,183.8 L239.5,183.9 L240.0,183.9 L240.5,183.9 L241.0,184.0 L241.5,184.0 L242.0,184.1 L242.5,184.1 L243.0,184.1 L243.5,184.2 L244.0,184.2 L244.5,184.2 L245.0,184.3 L245.5,184.3 L246.0,184.3 L246.5,184.4 L247.0,184.4 L247.5,184.4 L248.0,184.4 L248.5,184.5 L249.0,184.5 L249.5,184.5 L250.0,184.6 L250.5,184.6 L251.0,184.6 L251.5,184.7 L252.0,184.7 L252.5,184.7 L253.0,184.7 L253.5,184.8 L254.0,184.8 L254.5,184.8 L255.0,184.8 L255.5,184.9 L256.0,184.9 L256.5,184.9 L257.0,184.9 L257.5,185.0 L258.0,185.0 L258.5,185.0 L259.0,185.0 L259.5,185.0 L260.0,185.1 L260.5,185.1 L261.0,185.1 L261.5,185.1 L262.0,185.2 L262.5,185.2 L263.0,185.2 L263.5,185.2 L264.0,185.2 L264.5,185.2 L265.0,185.3 L265.5,185.3 L266.0,185.3 L266.5,185.3 L267.0,185.3 L267.5,185.4 L268.0,185.4 L268.5,185.4 L269.0,185.4 L269.5,185.4 L270.0,185.4 L270.5,185.4 L271.0,185.5 L271.5,185.5 L272.0,185.5 L272.5,185.5 L273.0,185.5 L273.5,185.5 L274.0,185.5 L274.5,185.6 L275.0,185.6 L275.5,185.6 L276.0,185.6 L276.5,185.6 L277.0,185.6 L277.5,185.6 L278.0,185.6 L278.5,185.7 L279.0,185.7 L279.5,185.7 L280.0,185.7 L280.5,185.7 L281.0,185.7 L281.5,185.7 L282.0,185.7 L282.5,185.7 L283.0,185.7 L283.5,185.8 L284.0,185.8 L284.5,185.8 L285.0,185.8 L285.5,185.8 L286.0,185.8 L286.5,185.8 L287.0,185.8 L287.5,185.8 L288.0,185.8 L288.5,185.8 L289.0,185.8 L289.5,185.9 L290.0,185.9 L290.5,185.9 L291.0,185.9 L291.5,185.9 L292.0,185.9 L292.5,185.9 L293.0,185.9 L293.5,185.9 L294.0,185.9 L294.5,185.9 L295.0,185.9 L295.5,185.9 L296.0,185.9 L296.5,185.9 L297.0,185.9 L297.5,185.9 L298.0,186.0 L298.5,186.0 L299.0,186.0 L299.5,186.0 L300.0,186.0 L300.5,186.0 L301.0,186.0 L301.5,186.0 L302.0,186.0 L302.5,186.0 L303.0,186.0 L303.5,186.0 L304.0,186.0 L304.5,186.0 L305.0,186.0 L305.5,186.0 L306.0,186.0 L306.5,186.0 L307.0,186.0 L307.5,186.0 L308.0,186.0 L308.5,186.0 L309.0,186.0 L309.5,186.0 L310.0,186.0 L310.5,186.0 L311.0,186.1 L311.5,186.1 L312.0,186.1 L312.5,186.1 L313.0,186.1 L313.5,186.1 L314.0,186.1 L314.5,186.1 L315.0,186.1" stroke="#3fae66"/>
<path d="M30.5,178.3 L31.0,178.3 L31.5,178.3 L32.0,178.3 L32.5,178.3 L33.0,178.3 L33.5,178.3 L34.0,178.3 L34.5,178.3 L35.0,178.3 L35.5,178.3 L36.0,178.3 L36.5,178.3 L37.0,178.3 L37.5,178.3 L38.0,178.3 L38.5,178.3 L39.0,178.3 L39.5,178.3 L40.0,178.3 L40.5,178.3 L41.0,178.3 L41.5,178.3 L42.0,178.3 L42.5,178.3 L43.0,178.3 L43.5,178.3 L44.0,178.3 L44.5,178.3 L45.0,178.3 L45.5,178.3 L46.0,178.3 L46.5,178.3 L47.0,178.3 L47.5,178.3 L48.0,178.3 L48.5,178.3 L49.0,178.3 L49.5,178.3 L50.0,178.3 L50.5,178.3 L51.0,178.3 L51.5,178.3 L52.0,178.3 L52.5,178.3 L53.0,178.3 L53.5,178.3 L54.0,178.3 L54.5,178.3 L55.0,178.3 L55.5,178.3 L56.0,178.3 L56.5,178.3 L57.0,178.3 L57.5,178.3 L58.0,178.3 L58.5,178.3 L59.0,178.3 L59.5,178.3 L60.0,178.3 L60.5,178.3 L61.0,178.3 L61.5,178.3 L62.0,178.3 L62.5,178.3 L63.0,178.3 L63.5,178.3 L64.0,178.3 L64.5,178.3 L65.0,178.3 L65.5,178.3 L66.0,178.3 L66.5,178.3 L67.0,178.3 L67.5,178.3 L68.0,178.3 L68.5,178.3 L69.0,178.3 L69.5,178.3 L70.0,178.3 L70.5,178.3 L71.0,178.3 L71.5,178.3 L72.0,178.3 L72.5,178.3 L73.0,178.3 L73.5,178.3 L74.0,178.3 L74.5,178.3 L75.0,178.3 L75.5,178.3 L76.0,178.3 L76.5,178.3 L77.0,178.3 L77.5,178.3 L78.0,178.3 L78.5,178.3 L79.0,178.3 L79.5,178.3 L80.0,178.3 L80.5,178.3 L81.0,178.3 L81.5,178.3 L82.0,178.3 L82.5,178.3 L83.0,178.3 L83.5,178.3 L84.0,178.3 L84.5,178.3 L85.0,178.3 L85.5,178.3 L86.0,178.3 L86.5,178.3 L87.0,178.3 L87.5,178.3 L88.0,178.3 L88.5,178.3 L89.0,178.3 L89.5,178.3 L90.0,178.3 L90.5,178.3 L91.0,178.3 L91.5,178.3 L92.0,178.3 L92.5,178.3 L93.0,178.3 L93.5,178.3 L94.0,178.3 L94.5,178.3 L95.0,178.3 L95.5,178.3 L96.0,178.3 L96.5,178.3 L97.0,178.3 L97.5,178.3 L98.0,178.3 L98.5,178.3 L99.0,178.3 L99.5,178.3 L100.0,178.3 L100.5,178.3 L101.0,178.3 L101.5,178.3 L102.0,178.3 L102.5,178.3 L103.0,178.4 L103.5,178.4 L104.0,178.4 L104.5,178.4 L105.0,178.4 L105.5,178.4 L106.0,178.4 L106.5,178.4 L107.0,178.4 L107.5,178.4 L108.0,178.4 L108.5,178.4 L109.0,178.4 L109.5,178.4 L110.0,178.4 L110.5,178.4 L111.0,178.4 L111.5,178.4 L112.0,178.4 L112.5,178.4 L113.0,178.4 L113.5,178.4 L114.0,178.4 L114.5,178.4 L115.0,178.4 L115.5,178.4 L116.0,178.4 L116.5,178.4 L117.0,178.4 L117.5,178.4 L118.0,178.4 L118.5,178.4 L119.0,178.4 L119.5,178.4 L120.0,178.4 L120.5,178.4 L121.0,178.4 L121.5,178.4 L122.0,178.4 L122.5,178.4 L123.0,178.4 L123.5,178.4 L124.0,178.4 L124.5,178.4 L125.0,178.4 L125.5,178.4 L126.0,178.4 L126.5,178.4 L127.0,178.4 L127.5,178.4 L128.0,178.4 L128.5,178.4 L129.0,178.4 L129.5,178.4 L130.0,178.4 L130.5,178.4 L131.0,178.4 L131.5,178.4 L132.0,178.4 L132.5,178.4 L133.0,178.4 L133.5,178.4 L134.0,178.4 L134.5,178.5 L135.0,178.5 L135.5,178.5 L136.0,178.5 L136.5,178.5 L137.0,178.5 L137.5,178.5 L138.0,178.5 L138.5,178.5 L139.0,178.5 L139.5,178.5 L140.0,178.5 L140.5,178.5 L141.0,178.5 L141.5,178.5 L142.0,178.5 L142.5,178.5 L143.0,178.5 L143.5,178.5 L144.0,178.5 L144.5,178.5 L145.0,178.5 L145.5,178.5 L146.0,178.5 L146.5,178.6 L147.0,178.6 L147.5,178.6 L148.0,178.6 L148.5,178.6 L149.0,178.6 L149.5,178.6 L150.0,178.6 L150.5,178.6 L151.0,178.6 L151.5,178.6 L152.0,178.6 L152.5,178.6 L153.0,178.6 L153.5,178.6 L154.0,178.6 L154.5,178.7 L155.0,178.7 L155.5,178.7 L156.0,178.7 L156.5,178.7 L157.0,178.7 L157.5,178.7 L158.0,178.7 L158.5,178.7 L159.0,178.7 L159.5,178.7 L160.0,178.7 L160.5,178.8 L161.0,178.8 L161.5,178.8 L162.0,178.8 L162.5,178.8 L163.0,178.8 L163.5,178.8 L164.0,178.8 L164.5,178.8 L165.0,178.9 L165.5,178.9 L166.0,178.9 L166.5,178.9 L167.0,178.9 L167.5,178.9 L168.0,178.9 L168.5,178.9 L169.0,179.0 L169.5,179.0 L170.0,179.0 L170.5,179.0 L171.0,179.0 L171.5,179.0 L172.0,179.0 L172.5,179.1 L173.0,179.1 L173.5,179.1 L174.0,179.1 L174.5,179.1 L175.0,179.1 L175.5,179.1 L176.0,179.2 L176.5,179.2 L177.0,179.2 L177.5,179.2 L178.0,179.2 L178.5,179.3 L179.0,179.3 L179.5,179.3 L180.0,179.3 L180.5,179.3 L181.0,179.3 L181.5,179.4 L182.0,179.4 L182.5,179.4 L183.0,179.4 L183.5,179.5 L184.0,179.5 L184.5,179.5 L185.0,179.5 L185.5,179.5 L186.0,179.6 L186.5,179.6 L187.0,179.6 L187.5,179.6 L188.0,179.7 L188.5,179.7 L189.0,179.7 L189.5,179.7 L190.0,179.8 L190.5,179.8 L191.0,179.8 L191.5,179.8 L192.0,179.9 L192.5,179.9 L193.0,179.9 L193.5,179.9 L194.0,180.0 L194.5,180.0 L195.0,180.0 L195.5,180.1 L196.0,180.1 L196.5,180.1 L197.0,180.1 L197.5,180.2 L198.0,180.2 L198.5,180.2 L199.0,180.3 L199.5,180.3 L200.0,180.3 L200.5,180.4 L201.0,180.4 L201.5,180.4 L202.0,180.4 L202.5,180.5 L203.0,180.5 L203.5,180.5 L204.0,180.6 L204.5,180.6 L205.0,180.6 L205.5,180.7 L206.0,180.7 L206.5,180.7 L207.0,180.8 L207.5,180.8 L208.0,180.8 L208.5,180.9 L209.0,180.9 L209.5,180.9 L210.0,180.9 L210.5,181.0 L211.0,181.0 L211.5,181.0 L212.0,181.1 L212.5,181.1 L213.0,181.1 L213.5,181.2 L214.0,181.2 L214.5,181.2 L215.0,181.2 L215.5,181.3 L216.0,181.3 L216.5,181.3 L217.0,181.3 L217.5,181.4 L218.0,181.4 L218.5,181.4 L219.0,181.4 L219.5,181.4 L220.0,181.5 L220.5,181.5 L221.0,181.5 L221.5,181.5 L222.0,181.5 L222.5,181.5 L223.0,181.5 L223.5,181.5 L224.0,181.4 L224.5,181.4 L225.0,181.4 L225.5,181.3 L226.0,181.3 L226.5,181.2 L227.0,181.1 L227.5,181.0 L228.0,180.9 L228.5,180.7 L229.0,180.5 L229.5,180.3 L230.0,180.0 L230.5,179.8 L231.0,179.4 L231.5,179.0 L232.0,178.6 L232.5,178.1 L233.0,177.6 L233.5,176.9 L234.0,176.2 L234.5,175.5 L235.0,174.6 L235.5,173.7 L236.0,172.7 L236.5,171.7 L237.0,170.5 L237.5,169.3 L238.0,168.0 L238.5,166.7 L239.0,165.2 L239.5,163.7 L240.0,162.2 L240.5,160.6 L241.0,159.1 L241.5,157.5 L242.0,155.9 L242.5,154.3 L243.0,152.8 L243.5,151.3 L244.0,149.9 L244.5,148.6 L245.0,147.4 L245.5,146.4 L246.0,145.5 L246.5,144.8 L247.0,144.3 L247.5,144.0 L248.0,143.9 L248.5,144.1 L249.0,144.4 L249.5,145.0 L250.0,145.7 L250.5,146.6 L251.0,147.7 L251.5,148.9 L252.0,150.3 L252.5,151.7 L253.0,153.3 L253.5,154.9 L254.0,156.5 L254.5,158.1 L255.0,159.8 L255.5,161.4 L256.0,163.1 L256.5,164.7 L257.0,166.2 L257.5,167.7 L258.0,169.1 L258.5,170.5 L259.0,171.8 L259.5,173.0 L260.0,174.1 L260.5,175.2 L261.0,176.2 L261.5,177.1 L262.0,177.9 L262.5,178.6 L263.0,179.3 L263.5,179.9 L264.0,180.5 L264.5,181.0 L265.0,181.4 L265.5,181.8 L266.0,182.2 L266.5,182.5 L267.0,182.8 L267.5,183.0 L268.0,183.3 L268.5,183.5 L269.0,183.6 L269.5,183.8 L270.0,183.9 L270.5,184.0 L271.0,184.1 L271.5,184.2 L272.0,184.3 L272.5,184.4 L273.0,184.5 L273.5,184.5 L274.0,184.6 L274.5,184.6 L275.0,184.7 L275.5,184.7 L276.0,184.8 L276.5,184.8 L277.0,184.9 L277.5,184.9 L278.0,184.9 L278.5,185.0 L279.0,185.0 L279.5,185.0 L280.0,185.1 L280.5,185.1 L281.0,185.1 L281.5,185.1 L282.0,185.2 L282.5,185.2 L283.0,185.2 L283.5,185.2 L284.0,185.3 L284.5,185.3 L285.0,185.3 L285.5,185.3 L286.0,185.4 L286.5,185.4 L287.0,185.4 L287.5,185.4 L288.0,185.4 L288.5,185.4 L289.0,185.5 L289.5,185.5 L290.0,185.5 L290.5,185.5 L291.0,185.5 L291.5,185.5 L292.0,185.5 L292.5,185.6 L293.0,185.6 L293.5,185.6 L294.0,185.6 L294.5,185.6 L295.0,185.6 L295.5,185.6 L296.0,185.6 L296.5,185.7 L297.0,185.7 L297.5,185.7 L298.0,185.7 L298.5,185.7 L299.0,185.7 L299.5,185.7 L300.0,185.7 L300.5,185.7 L301.0,185.7 L301.5,185.8 L302.0,185.8 L302.5,185.8 L303.0,185.8 L303.5,185.8 L304.0,185.8 L304.5,185.8 L305.0,185.8 L305.5,185.8 L306.0,185.8 L306.5,185.8 L307.0,185.8 L307.5,185.8 L308.0,185.9 L308.5,185.9 L309.0,185.9 L309.5,185.9 L310.0,185.9 L310.5,185.9 L311.0,185.9 L311.5,185.9 L312.0,185.9 L312.5,185.9 L313.0,185.9 L313.5,185.9 L314.0,185.9 L314.5,185.9 L315.0,185.9 L315.4,186.2 L315.6,189.9" stroke="#b47fe6"/>
</g><g fill="none" stroke-width="1.65" stroke-linejoin="round">
<path d="M370.0,181.5 L370.5,182.1 L371.0,181.9 L371.5,182.0 L372.0,181.8 L372.5,181.7 L373.0,181.5 L373.5,181.2 L374.0,181.3 L374.5,181.2 L375.0,181.1 L375.5,181.0 L376.0,181.5 L376.5,181.1 L377.0,181.0 L377.5,181.2 L378.0,182.0 L378.5,181.8 L379.0,181.7 L379.5,181.0 L380.0,181.2 L380.5,180.8 L381.0,180.9 L381.5,181.4 L382.0,181.7 L382.5,181.8 L383.0,181.5 L383.5,181.4 L384.0,181.3 L384.5,181.6 L385.0,181.4 L385.5,181.5 L386.0,181.2 L386.5,181.4 L387.0,181.4 L387.5,181.5 L388.0,181.8 L388.5,181.7 L389.0,182.1 L389.5,181.7 L390.0,181.6 L390.5,181.2 L391.0,181.4 L391.5,181.6 L392.0,181.8 L392.5,182.0 L393.0,182.1 L393.5,181.7 L394.0,181.4 L394.5,181.6 L395.0,181.7 L395.5,181.4 L396.0,181.0 L396.5,180.8 L397.0,181.3 L397.5,181.5 L398.0,182.1 L398.5,182.0 L399.0,182.1 L399.5,181.4 L400.0,181.5 L400.5,181.4 L401.0,181.3 L401.5,181.2 L402.0,181.3 L402.5,181.7 L403.0,181.6 L403.5,180.9 L404.0,180.8 L404.5,180.4 L405.0,181.4 L405.5,181.7 L406.0,182.0 L406.5,181.4 L407.0,180.6 L407.5,180.9 L408.0,181.1 L408.5,181.3 L409.0,181.0 L409.5,181.6 L410.0,181.8 L410.5,182.0 L411.0,181.7 L411.5,181.9 L412.0,181.9 L412.5,181.6 L413.0,181.3 L413.5,180.9 L414.0,180.9 L414.5,181.2 L415.0,181.2 L415.5,181.4 L416.0,180.9 L416.5,180.9 L417.0,181.1 L417.5,181.2 L418.0,181.2 L418.5,181.1 L419.0,181.3 L419.5,181.6 L420.0,181.5 L420.5,181.0 L421.0,181.0 L421.5,181.0 L422.0,181.7 L422.5,181.3 L423.0,181.8 L423.5,181.3 L424.0,181.6 L424.5,181.1 L425.0,181.2 L425.5,181.2 L426.0,181.2 L426.5,180.7 L427.0,180.3 L427.5,180.4 L428.0,181.5 L428.5,181.4 L429.0,181.3 L429.5,181.1 L430.0,181.6 L430.5,181.5 L431.0,180.8 L431.5,180.2 L432.0,180.2 L432.5,180.4 L433.0,180.3 L433.5,180.1 L434.0,180.2 L434.5,180.6 L435.0,180.8 L435.5,180.7 L436.0,180.6 L436.5,181.0 L437.0,181.4 L437.5,182.1 L438.0,182.0 L438.5,181.8 L439.0,181.7 L439.5,181.9 L440.0,182.1 L440.5,182.0 L441.0,181.4 L441.5,180.7 L442.0,180.6 L442.5,180.7 L443.0,181.1 L443.5,180.7 L444.0,180.4 L444.5,180.7 L445.0,181.0 L445.5,181.1 L446.0,180.8 L446.5,180.8 L447.0,181.1 L447.5,181.5 L448.0,181.4 L448.5,181.0 L449.0,180.5 L449.5,180.3 L450.0,180.8 L450.5,180.8 L451.0,181.0 L451.5,180.7 L452.0,180.8 L452.5,180.5 L453.0,180.8 L453.5,180.6 L454.0,180.4 L454.5,180.4 L455.0,180.3 L455.5,180.9 L456.0,180.8 L456.5,181.1 L457.0,180.8 L457.5,180.6 L458.0,179.9 L458.5,180.2 L459.0,180.0 L459.5,180.7 L460.0,180.3 L460.5,180.4 L461.0,180.1 L461.5,180.0 L462.0,179.9 L462.5,180.0 L463.0,180.1 L463.5,179.8 L464.0,179.5 L464.5,179.7 L465.0,180.2 L465.5,180.4 L466.0,180.4 L466.5,179.8 L467.0,179.8 L467.5,179.6 L468.0,179.8 L468.5,179.7 L469.0,179.7 L469.5,179.8 L470.0,179.2 L470.5,178.8 L471.0,178.2 L471.5,178.4 L472.0,178.5 L472.5,178.9 L473.0,178.8 L473.5,178.6 L474.0,178.7 L474.5,178.2 L475.0,177.8 L475.5,177.0 L476.0,177.2 L476.5,177.2 L477.0,177.0 L477.5,176.4 L478.0,176.6 L478.5,176.3 L479.0,176.0 L479.5,175.4 L480.0,175.0 L480.5,174.9 L481.0,174.9 L481.5,174.6 L482.0,174.3 L482.5,173.5 L483.0,173.1 L483.5,172.9 L484.0,172.6 L484.5,172.1 L485.0,171.2 L485.5,170.5 L486.0,170.2 L486.5,169.8 L487.0,169.2 L487.5,167.9 L488.0,167.5 L488.5,166.4 L489.0,165.8 L489.5,164.7 L490.0,164.3 L490.5,163.7 L491.0,162.8 L491.5,161.8 L492.0,160.7 L492.5,159.5 L493.0,158.5 L493.5,157.4 L494.0,156.8 L494.5,155.7 L495.0,154.9 L495.5,153.8 L496.0,152.8 L496.5,151.5 L497.0,150.2 L497.5,148.6 L498.0,147.2 L498.5,145.4 L499.0,143.9 L499.5,142.2 L500.0,140.8 L500.5,139.4 L501.0,137.3 L501.5,135.6 L502.0,133.8 L502.5,132.4 L503.0,131.0 L503.5,129.0 L504.0,127.0 L504.5,125.0 L505.0,123.2 L505.5,120.8 L506.0,118.5 L506.5,116.7 L507.0,114.7 L507.5,112.9 L508.0,110.3 L508.5,108.7 L509.0,106.2 L509.5,104.1 L510.0,101.2 L510.5,99.2 L511.0,97.2 L511.5,95.1 L512.0,93.1 L512.5,90.4 L513.0,88.5 L513.5,85.3 L514.0,83.4 L514.5,80.9 L515.0,79.2 L515.5,76.4 L516.0,74.1 L516.5,72.2 L517.0,70.2 L517.5,68.4 L518.0,65.9 L518.5,63.9 L519.0,61.4 L519.5,59.4 L520.0,57.8 L520.5,56.0 L521.0,54.0 L521.5,51.3 L522.0,49.5 L522.5,47.8 L523.0,45.7 L523.5,43.3 L524.0,41.8 L524.5,40.6 L525.0,39.4 L525.5,37.6 L526.0,36.3 L526.5,35.1 L527.0,33.7 L527.5,32.7 L528.0,31.4 L528.5,30.3 L529.0,28.8 L529.5,28.0 L530.0,27.5 L530.5,27.0 L531.0,26.7 L531.5,25.7 L532.0,25.4 L532.5,25.4 L533.0,26.4 L533.5,26.6 L534.0,26.5 L534.5,27.1 L535.0,27.7 L535.5,28.4 L536.0,29.4 L536.5,30.2 L537.0,31.6 L537.5,32.3 L538.0,33.7 L538.5,34.7 L539.0,36.0 L539.5,37.9 L540.0,39.5 L540.5,41.6 L541.0,42.9 L541.5,45.1 L542.0,47.0 L542.5,49.1 L543.0,51.6 L543.5,53.8 L544.0,56.8 L544.5,58.6 L545.0,61.3 L545.5,64.0 L546.0,66.7 L546.5,68.8 L547.0,70.9 L547.5,73.4 L548.0,76.0 L548.5,78.4 L549.0,80.7 L549.5,83.3 L550.0,85.7 L550.5,88.1 L551.0,90.6 L551.5,93.0 L552.0,96.1 L552.5,98.2 L553.0,100.3 L553.5,101.7 L554.0,104.0 L554.5,106.1 L555.0,107.9 L555.5,110.2 L556.0,111.9 L556.5,114.4 L557.0,115.8 L557.5,117.6 L558.0,119.3 L558.5,120.8 L559.0,122.3 L559.5,123.4 L560.0,125.2 L560.5,127.0 L561.0,128.5 L561.5,129.9 L562.0,131.1 L562.5,132.3 L563.0,133.0 L563.5,133.9 L564.0,135.0 L564.5,136.6 L565.0,137.8 L565.5,139.4 L566.0,140.3 L566.5,141.8 L567.0,142.7 L567.5,144.3 L568.0,145.7 L568.5,147.1 L569.0,148.2 L569.5,149.4 L570.0,150.6 L570.5,151.7 L571.0,153.1 L571.5,154.3 L572.0,155.2 L572.5,156.4 L573.0,157.0 L573.5,158.3 L574.0,159.4 L574.5,160.6 L575.0,161.2 L575.5,161.9 L576.0,162.8 L576.5,164.1 L577.0,165.1 L577.5,166.5 L578.0,167.2 L578.5,168.2 L579.0,168.3 L579.5,169.4 L580.0,169.7 L580.5,170.8 L581.0,171.4 L581.5,172.3 L582.0,172.6 L582.5,172.8 L583.0,173.6 L583.5,174.6 L584.0,175.3 L584.5,175.4 L585.0,175.4 L585.5,175.8 L586.0,176.2 L586.5,176.8 L587.0,177.7 L587.5,178.2 L588.0,178.9 L588.5,178.6 L589.0,179.1 L589.5,179.2 L590.0,179.4 L590.5,179.8 L591.0,180.4 L591.5,181.2 L592.0,181.6 L592.5,181.4 L593.0,181.4 L593.5,181.5 L594.0,182.1 L594.5,182.6 L595.0,182.5 L595.5,182.9 L596.0,182.7 L596.5,183.0 L597.0,182.5 L597.5,182.7 L598.0,182.8 L598.5,182.9 L599.0,182.9 L599.5,183.1 L600.0,183.4 L600.5,183.7 L601.0,183.6 L601.5,183.9 L602.0,183.8 L602.5,184.2 L603.0,183.6 L603.5,183.8 L604.0,183.7 L604.5,184.4 L605.0,184.2 L605.5,184.6 L606.0,184.1 L606.5,184.8 L607.0,184.6 L607.5,184.7 L608.0,185.0 L608.5,184.6 L609.0,184.8 L609.5,184.4 L610.0,184.8 L610.5,184.9 L611.0,185.1 L611.5,185.1 L612.0,185.1 L612.5,184.7 L613.0,184.6 L613.5,184.8 L614.0,184.8 L614.5,184.9 L615.0,184.3 L615.5,184.4 L616.0,184.0 L616.5,184.8 L617.0,184.6 L617.5,184.9 L618.0,184.8 L618.5,185.4 L619.0,185.7 L619.5,185.8 L620.0,185.7 L620.5,185.8 L621.0,185.5 L621.5,185.4 L622.0,184.8 L622.5,184.9 L623.0,185.2 L623.5,185.5 L624.0,185.2 L624.5,184.9 L625.0,185.4 L625.5,186.0 L626.0,185.6 L626.5,185.5 L627.0,185.0 L627.5,185.5 L628.0,184.9 L628.5,185.2 L629.0,185.1 L629.5,185.7 L630.0,185.4 L630.5,185.3 L631.0,185.4 L631.5,185.3 L632.0,185.4 L632.5,185.5 L633.0,185.6 L633.5,185.6 L634.0,185.7 L634.5,185.5 L635.0,185.7 L635.5,185.7 L636.0,186.0 L636.5,186.3 L637.0,186.6 L637.5,186.4 L638.0,185.9 L638.5,185.9 L639.0,186.2 L639.5,186.4 L640.0,186.2 L640.5,185.8 L641.0,185.5 L641.5,185.6 L642.0,185.7 L642.5,186.1 L643.0,186.3 L643.5,186.6 L644.0,186.4 L644.5,185.7 L645.0,185.0 L645.5,185.1 L646.0,185.3 L646.5,185.8 L647.0,185.9 L647.5,185.8 L648.0,185.6 L648.5,185.3 L649.0,185.7 L649.5,185.7 L650.0,186.2 L650.5,185.8 L651.0,185.9 L651.5,185.9 L652.0,186.0 L652.5,185.8 L653.0,186.2 L653.5,186.2 L654.0,186.6 L654.5,186.0 L655.0,185.9 L655.5,186.1 L656.0,186.2 L656.5,186.5 L657.0,185.6 L657.5,185.6 L658.0,185.7 L658.5,186.3 L659.0,186.2 L659.5,186.3 L660.0,186.3 L660.5,186.5 L661.0,186.5 L661.5,186.6 L662.0,186.2 L662.5,186.0 L663.0,185.6 L663.5,185.5 L664.0,185.5 L664.5,185.2 L665.0,185.6 L665.5,185.0 L666.0,185.1 L666.5,185.1 L667.0,185.7 L667.5,185.8 L668.0,185.7 L668.5,185.5 L669.0,186.0 L669.5,186.1 L670.0,186.3 L670.5,186.4 L671.0,186.1 L671.5,185.7 L672.0,185.0 L672.5,185.3 L673.0,185.5 L673.5,185.8 L674.0,185.8 L674.5,185.7 L675.0,185.8" stroke="#505050"/>
<path d="M370.0,181.6 L370.5,181.6 L371.0,181.6 L371.5,181.6 L372.0,181.6 L372.5,181.6 L373.0,181.6 L373.5,181.6 L374.0,181.6 L374.5,181.6 L375.0,181.6 L375.5,181.6 L376.0,181.6 L376.5,181.6 L377.0,181.6 L377.5,181.6 L378.0,181.5 L378.5,181.5 L379.0,181.5 L379.5,181.5 L380.0,181.5 L380.5,181.5 L381.0,181.5 L381.5,181.5 L382.0,181.5 L382.5,181.5 L383.0,181.5 L383.5,181.5 L384.0,181.5 L384.5,181.5 L385.0,181.5 L385.5,181.5 L386.0,181.5 L386.5,181.5 L387.0,181.5 L387.5,181.5 L388.0,181.5 L388.5,181.4 L389.0,181.4 L389.5,181.4 L390.0,181.4 L390.5,181.4 L391.0,181.4 L391.5,181.4 L392.0,181.4 L392.5,181.4 L393.0,181.4 L393.5,181.4 L394.0,181.4 L394.5,181.4 L395.0,181.4 L395.5,181.4 L396.0,181.4 L396.5,181.4 L397.0,181.3 L397.5,181.3 L398.0,181.3 L398.5,181.3 L399.0,181.3 L399.5,181.3 L400.0,181.3 L400.5,181.3 L401.0,181.3 L401.5,181.3 L402.0,181.3 L402.5,181.3 L403.0,181.3 L403.5,181.3 L404.0,181.3 L404.5,181.2 L405.0,181.2 L405.5,181.2 L406.0,181.2 L406.5,181.2 L407.0,181.2 L407.5,181.2 L408.0,181.2 L408.5,181.2 L409.0,181.2 L409.5,181.2 L410.0,181.2 L410.5,181.1 L411.0,181.1 L411.5,181.1 L412.0,181.1 L412.5,181.1 L413.0,181.1 L413.5,181.1 L414.0,181.1 L414.5,181.1 L415.0,181.1 L415.5,181.1 L416.0,181.0 L416.5,181.0 L417.0,181.0 L417.5,181.0 L418.0,181.0 L418.5,181.0 L419.0,181.0 L419.5,181.0 L420.0,181.0 L420.5,180.9 L421.0,180.9 L421.5,180.9 L422.0,180.9 L422.5,180.9 L423.0,180.9 L423.5,180.9 L424.0,180.9 L424.5,180.9 L425.0,180.8 L425.5,180.8 L426.0,180.8 L426.5,180.8 L427.0,180.8 L427.5,180.8 L428.0,180.8 L428.5,180.8 L429.0,180.7 L429.5,180.7 L430.0,180.7 L430.5,180.7 L431.0,180.7 L431.5,180.7 L432.0,180.6 L432.5,180.6 L433.0,180.6 L433.5,180.6 L434.0,180.6 L434.5,180.6 L435.0,180.6 L435.5,180.5 L436.0,180.5 L436.5,180.5 L437.0,180.5 L437.5,180.5 L438.0,180.4 L438.5,180.4 L439.0,180.4 L439.5,180.4 L440.0,180.4 L440.5,180.3 L441.0,180.3 L441.5,180.3 L442.0,180.3 L442.5,180.3 L443.0,180.2 L443.5,180.2 L444.0,180.2 L444.5,180.2 L445.0,180.2 L445.5,180.1 L446.0,180.1 L446.5,180.1 L447.0,180.1 L447.5,180.0 L448.0,180.0 L448.5,180.0 L449.0,180.0 L449.5,179.9 L450.0,179.9 L450.5,179.9 L451.0,179.8 L451.5,179.8 L452.0,179.8 L452.5,179.7 L453.0,179.7 L453.5,179.7 L454.0,179.7 L454.5,179.6 L455.0,179.6 L455.5,179.6 L456.0,179.5 L456.5,179.5 L457.0,179.4 L457.5,179.4 L458.0,179.4 L458.5,179.3 L459.0,179.3 L459.5,179.2 L460.0,179.2 L460.5,179.2 L461.0,179.1 L461.5,179.1 L462.0,179.0 L462.5,179.0 L463.0,178.9 L463.5,178.9 L464.0,178.8 L464.5,178.8 L465.0,178.7 L465.5,178.6 L466.0,178.6 L466.5,178.5 L467.0,178.4 L467.5,178.4 L468.0,178.3 L468.5,178.2 L469.0,178.1 L469.5,178.1 L470.0,178.0 L470.5,177.9 L471.0,177.8 L471.5,177.7 L472.0,177.6 L472.5,177.5 L473.0,177.4 L473.5,177.3 L474.0,177.1 L474.5,177.0 L475.0,176.9 L475.5,176.7 L476.0,176.6 L476.5,176.4 L477.0,176.3 L477.5,176.1 L478.0,175.9 L478.5,175.7 L479.0,175.5 L479.5,175.3 L480.0,175.1 L480.5,174.8 L481.0,174.6 L481.5,174.3 L482.0,174.0 L482.5,173.7 L483.0,173.4 L483.5,173.0 L484.0,172.7 L484.5,172.3 L485.0,171.9 L485.5,171.5 L486.0,171.0 L486.5,170.6 L487.0,170.1 L487.5,169.5 L488.0,169.0 L488.5,168.4 L489.0,167.8 L489.5,167.2 L490.0,166.5 L490.5,165.8 L491.0,165.1 L491.5,164.3 L492.0,163.5 L492.5,162.6 L493.0,161.8 L493.5,160.8 L494.0,159.9 L494.5,158.9 L495.0,157.8 L495.5,156.7 L496.0,155.6 L496.5,154.4 L497.0,153.2 L497.5,151.9 L498.0,150.6 L498.5,149.2 L499.0,147.8 L499.5,146.3 L500.0,144.8 L500.5,143.3 L501.0,141.7 L501.5,140.0 L502.0,138.3 L502.5,136.6 L503.0,134.8 L503.5,133.0 L504.0,131.1 L504.5,129.2 L505.0,127.3 L505.5,125.3 L506.0,123.3 L506.5,121.2 L507.0,119.1 L507.5,117.0 L508.0,114.9 L508.5,112.7 L509.0,110.5 L509.5,108.4 L510.0,106.1 L510.5,103.9 L511.0,101.7 L511.5,99.5 L512.0,97.2 L512.5,95.0 L513.0,92.8 L513.5,90.6 L514.0,88.5 L514.5,86.4 L515.0,84.3 L515.5,82.2 L516.0,80.2 L516.5,78.2 L517.0,76.3 L517.5,74.5 L518.0,72.7 L518.5,71.1 L519.0,69.5 L519.5,68.0 L520.0,66.6 L520.5,65.3 L521.0,64.1 L521.5,63.0 L522.0,62.0 L522.5,61.2 L523.0,60.5 L523.5,60.0 L524.0,59.5 L524.5,59.2 L525.0,59.1 L525.5,59.1 L526.0,59.2 L526.5,59.5 L527.0,59.9 L527.5,60.5 L528.0,61.2 L528.5,62.0 L529.0,62.9 L529.5,64.0 L530.0,65.2 L530.5,66.5 L531.0,67.9 L531.5,69.4 L532.0,71.0 L532.5,72.7 L533.0,74.5 L533.5,76.4 L534.0,78.3 L534.5,80.3 L535.0,82.3 L535.5,84.4 L536.0,86.5 L536.5,88.7 L537.0,90.9 L537.5,93.1 L538.0,95.3 L538.5,97.6 L539.0,99.8 L539.5,102.1 L540.0,104.4 L540.5,106.6 L541.0,108.9 L541.5,111.1 L542.0,113.4 L542.5,115.6 L543.0,117.7 L543.5,119.9 L544.0,122.0 L544.5,124.1 L545.0,126.2 L545.5,128.2 L546.0,130.2 L546.5,132.2 L547.0,134.1 L547.5,136.0 L548.0,137.8 L548.5,139.6 L549.0,141.4 L549.5,143.1 L550.0,144.7 L550.5,146.3 L551.0,147.9 L551.5,149.4 L552.0,150.9 L552.5,152.3 L553.0,153.7 L553.5,155.0 L554.0,156.3 L554.5,157.5 L555.0,158.7 L555.5,159.8 L556.0,160.9 L556.5,162.0 L557.0,163.0 L557.5,163.9 L558.0,164.9 L558.5,165.8 L559.0,166.6 L559.5,167.4 L560.0,168.2 L560.5,169.0 L561.0,169.7 L561.5,170.3 L562.0,171.0 L562.5,171.6 L563.0,172.2 L563.5,172.7 L564.0,173.3 L564.5,173.8 L565.0,174.3 L565.5,174.7 L566.0,175.1 L566.5,175.5 L567.0,175.9 L567.5,176.3 L568.0,176.7 L568.5,177.0 L569.0,177.3 L569.5,177.6 L570.0,177.9 L570.5,178.2 L571.0,178.4 L571.5,178.7 L572.0,178.9 L572.5,179.1 L573.0,179.3 L573.5,179.5 L574.0,179.7 L574.5,179.9 L575.0,180.1 L575.5,180.2 L576.0,180.4 L576.5,180.5 L577.0,180.7 L577.5,180.8 L578.0,181.0 L578.5,181.1 L579.0,181.2 L579.5,181.3 L580.0,181.4 L580.5,181.5 L581.0,181.6 L581.5,181.7 L582.0,181.8 L582.5,181.9 L583.0,182.0 L583.5,182.1 L584.0,182.2 L584.5,182.3 L585.0,182.3 L585.5,182.4 L586.0,182.5 L586.5,182.5 L587.0,182.6 L587.5,182.7 L588.0,182.7 L588.5,182.8 L589.0,182.9 L589.5,182.9 L590.0,183.0 L590.5,183.0 L591.0,183.1 L591.5,183.2 L592.0,183.2 L592.5,183.3 L593.0,183.3 L593.5,183.4 L594.0,183.4 L594.5,183.5 L595.0,183.5 L595.5,183.5 L596.0,183.6 L596.5,183.6 L597.0,183.7 L597.5,183.7 L598.0,183.8 L598.5,183.8 L599.0,183.8 L599.5,183.9 L600.0,183.9 L600.5,184.0 L601.0,184.0 L601.5,184.0 L602.0,184.1 L602.5,184.1 L603.0,184.1 L603.5,184.2 L604.0,184.2 L604.5,184.2 L605.0,184.3 L605.5,184.3 L606.0,184.3 L606.5,184.3 L607.0,184.4 L607.5,184.4 L608.0,184.4 L608.5,184.5 L609.0,184.5 L609.5,184.5 L610.0,184.5 L610.5,184.6 L611.0,184.6 L611.5,184.6 L612.0,184.6 L612.5,184.7 L613.0,184.7 L613.5,184.7 L614.0,184.7 L614.5,184.8 L615.0,184.8 L615.5,184.8 L616.0,184.8 L616.5,184.9 L617.0,184.9 L617.5,184.9 L618.0,184.9 L618.5,184.9 L619.0,185.0 L619.5,185.0 L620.0,185.0 L620.5,185.0 L621.0,185.0 L621.5,185.0 L622.0,185.1 L622.5,185.1 L623.0,185.1 L623.5,185.1 L624.0,185.1 L624.5,185.2 L625.0,185.2 L625.5,185.2 L626.0,185.2 L626.5,185.2 L627.0,185.2 L627.5,185.2 L628.0,185.3 L628.5,185.3 L629.0,185.3 L629.5,185.3 L630.0,185.3 L630.5,185.3 L631.0,185.3 L631.5,185.4 L632.0,185.4 L632.5,185.4 L633.0,185.4 L633.5,185.4 L634.0,185.4 L634.5,185.4 L635.0,185.5 L635.5,185.5 L636.0,185.5 L636.5,185.5 L637.0,185.5 L637.5,185.5 L638.0,185.5 L638.5,185.5 L639.0,185.5 L639.5,185.6 L640.0,185.6 L640.5,185.6 L641.0,185.6 L641.5,185.6 L642.0,185.6 L642.5,185.6 L643.0,185.6 L643.5,185.6 L644.0,185.6 L644.5,185.7 L645.0,185.7 L645.5,185.7 L646.0,185.7 L646.5,185.7 L647.0,185.7 L647.5,185.7 L648.0,185.7 L648.5,185.7 L649.0,185.7 L649.5,185.7 L650.0,185.8 L650.5,185.8 L651.0,185.8 L651.5,185.8 L652.0,185.8 L652.5,185.8 L653.0,185.8 L653.5,185.8 L654.0,185.8 L654.5,185.8 L655.0,185.8 L655.5,185.8 L656.0,185.8 L656.5,185.9 L657.0,185.9 L657.5,185.9 L658.0,185.9 L658.5,185.9 L659.0,185.9 L659.5,185.9 L660.0,185.9 L660.5,185.9 L661.0,185.9 L661.5,185.9 L662.0,185.9 L662.5,185.9 L663.0,185.9 L663.5,185.9 L664.0,185.9 L664.5,186.0 L665.0,186.0 L665.5,186.0 L666.0,186.0 L666.5,186.0 L667.0,186.0 L667.5,186.0 L668.0,186.0 L668.5,186.0 L669.0,186.0 L669.5,186.0 L670.0,186.0 L670.5,186.0 L671.0,186.0 L671.5,186.0 L672.0,186.0 L672.5,186.0 L673.0,186.0 L673.5,186.0 L674.0,186.1 L674.5,186.1 L675.0,186.1" stroke="#e5484b"/>
<path d="M370.0,181.9 L370.5,181.9 L371.0,181.9 L371.5,181.9 L372.0,181.9 L372.5,181.9 L373.0,181.9 L373.5,181.9 L374.0,181.9 L374.5,181.9 L375.0,181.9 L375.5,181.9 L376.0,181.9 L376.5,181.9 L377.0,181.9 L377.5,181.9 L378.0,181.9 L378.5,181.9 L379.0,181.9 L379.5,181.9 L380.0,181.9 L380.5,181.9 L381.0,181.9 L381.5,181.9 L382.0,181.9 L382.5,181.9 L383.0,181.9 L383.5,181.9 L384.0,181.9 L384.5,181.9 L385.0,181.9 L385.5,181.9 L386.0,181.9 L386.5,181.9 L387.0,181.9 L387.5,181.9 L388.0,181.9 L388.5,181.9 L389.0,181.9 L389.5,181.9 L390.0,181.9 L390.5,181.9 L391.0,181.9 L391.5,181.9 L392.0,181.9 L392.5,181.9 L393.0,181.9 L393.5,181.9 L394.0,181.9 L394.5,181.8 L395.0,181.8 L395.5,181.8 L396.0,181.8 L396.5,181.8 L397.0,181.8 L397.5,181.8 L398.0,181.8 L398.5,181.8 L399.0,181.8 L399.5,181.8 L400.0,181.8 L400.5,181.8 L401.0,181.8 L401.5,181.8 L402.0,181.8 L402.5,181.8 L403.0,181.8 L403.5,181.8 L404.0,181.8 L404.5,181.8 L405.0,181.8 L405.5,181.8 L406.0,181.8 L406.5,181.8 L407.0,181.8 L407.5,181.8 L408.0,181.8 L408.5,181.8 L409.0,181.8 L409.5,181.8 L410.0,181.8 L410.5,181.8 L411.0,181.8 L411.5,181.8 L412.0,181.8 L412.5,181.8 L413.0,181.8 L413.5,181.8 L414.0,181.8 L414.5,181.7 L415.0,181.7 L415.5,181.7 L416.0,181.7 L416.5,181.7 L417.0,181.7 L417.5,181.7 L418.0,181.7 L418.5,181.7 L419.0,181.7 L419.5,181.7 L420.0,181.7 L420.5,181.7 L421.0,181.7 L421.5,181.7 L422.0,181.7 L422.5,181.7 L423.0,181.7 L423.5,181.7 L424.0,181.7 L424.5,181.7 L425.0,181.7 L425.5,181.7 L426.0,181.7 L426.5,181.7 L427.0,181.7 L427.5,181.7 L428.0,181.7 L428.5,181.7 L429.0,181.7 L429.5,181.6 L430.0,181.6 L430.5,181.6 L431.0,181.6 L431.5,181.6 L432.0,181.6 L432.5,181.6 L433.0,181.6 L433.5,181.6 L434.0,181.6 L434.5,181.6 L435.0,181.6 L435.5,181.6 L436.0,181.6 L436.5,181.6 L437.0,181.6 L437.5,181.6 L438.0,181.6 L438.5,181.6 L439.0,181.6 L439.5,181.6 L440.0,181.6 L440.5,181.6 L441.0,181.5 L441.5,181.5 L442.0,181.5 L442.5,181.5 L443.0,181.5 L443.5,181.5 L444.0,181.5 L444.5,181.5 L445.0,181.5 L445.5,181.5 L446.0,181.5 L446.5,181.5 L447.0,181.5 L447.5,181.5 L448.0,181.5 L448.5,181.5 L449.0,181.5 L449.5,181.5 L450.0,181.4 L450.5,181.4 L451.0,181.4 L451.5,181.4 L452.0,181.4 L452.5,181.4 L453.0,181.4 L453.5,181.4 L454.0,181.4 L454.5,181.4 L455.0,181.4 L455.5,181.4 L456.0,181.4 L456.5,181.4 L457.0,181.4 L457.5,181.3 L458.0,181.3 L458.5,181.3 L459.0,181.3 L459.5,181.3 L460.0,181.3 L460.5,181.3 L461.0,181.3 L461.5,181.3 L462.0,181.3 L462.5,181.3 L463.0,181.3 L463.5,181.2 L464.0,181.2 L464.5,181.2 L465.0,181.2 L465.5,181.2 L466.0,181.2 L466.5,181.2 L467.0,181.2 L467.5,181.2 L468.0,181.2 L468.5,181.1 L469.0,181.1 L469.5,181.1 L470.0,181.1 L470.5,181.1 L471.0,181.1 L471.5,181.1 L472.0,181.1 L472.5,181.1 L473.0,181.0 L473.5,181.0 L474.0,181.0 L474.5,181.0 L475.0,181.0 L475.5,181.0 L476.0,181.0 L476.5,180.9 L477.0,180.9 L477.5,180.9 L478.0,180.9 L478.5,180.9 L479.0,180.9 L479.5,180.9 L480.0,180.8 L480.5,180.8 L481.0,180.8 L481.5,180.8 L482.0,180.8 L482.5,180.7 L483.0,180.7 L483.5,180.7 L484.0,180.7 L484.5,180.7 L485.0,180.6 L485.5,180.6 L486.0,180.6 L486.5,180.6 L487.0,180.5 L487.5,180.5 L488.0,180.5 L488.5,180.5 L489.0,180.4 L489.5,180.4 L490.0,180.4 L490.5,180.3 L491.0,180.3 L491.5,180.3 L492.0,180.2 L492.5,180.2 L493.0,180.2 L493.5,180.1 L494.0,180.1 L494.5,180.0 L495.0,180.0 L495.5,179.9 L496.0,179.9 L496.5,179.8 L497.0,179.8 L497.5,179.7 L498.0,179.7 L498.5,179.6 L499.0,179.5 L499.5,179.5 L500.0,179.4 L500.5,179.3 L501.0,179.2 L501.5,179.1 L502.0,179.1 L502.5,179.0 L503.0,178.9 L503.5,178.8 L504.0,178.6 L504.5,178.5 L505.0,178.4 L505.5,178.3 L506.0,178.1 L506.5,178.0 L507.0,177.8 L507.5,177.7 L508.0,177.5 L508.5,177.3 L509.0,177.1 L509.5,176.9 L510.0,176.7 L510.5,176.4 L511.0,176.2 L511.5,175.9 L512.0,175.7 L512.5,175.4 L513.0,175.1 L513.5,174.8 L514.0,174.4 L514.5,174.1 L515.0,173.7 L515.5,173.3 L516.0,172.9 L516.5,172.5 L517.0,172.0 L517.5,171.5 L518.0,171.0 L518.5,170.5 L519.0,170.0 L519.5,169.4 L520.0,168.8 L520.5,168.2 L521.0,167.6 L521.5,166.9 L522.0,166.2 L522.5,165.5 L523.0,164.8 L523.5,164.0 L524.0,163.2 L524.5,162.4 L525.0,161.5 L525.5,160.7 L526.0,159.8 L526.5,158.8 L527.0,157.9 L527.5,156.9 L528.0,155.9 L528.5,154.9 L529.0,153.8 L529.5,152.8 L530.0,151.7 L530.5,150.6 L531.0,149.4 L531.5,148.3 L532.0,147.1 L532.5,145.9 L533.0,144.7 L533.5,143.5 L534.0,142.3 L534.5,141.1 L535.0,139.9 L535.5,138.7 L536.0,137.5 L536.5,136.3 L537.0,135.1 L537.5,133.9 L538.0,132.8 L538.5,131.6 L539.0,130.5 L539.5,129.4 L540.0,128.4 L540.5,127.4 L541.0,126.4 L541.5,125.5 L542.0,124.6 L542.5,123.8 L543.0,123.0 L543.5,122.4 L544.0,121.7 L544.5,121.2 L545.0,120.7 L545.5,120.4 L546.0,120.1 L546.5,119.9 L547.0,119.7 L547.5,119.7 L548.0,119.7 L548.5,119.9 L549.0,120.1 L549.5,120.4 L550.0,120.8 L550.5,121.3 L551.0,121.8 L551.5,122.5 L552.0,123.2 L552.5,124.0 L553.0,124.8 L553.5,125.7 L554.0,126.6 L554.5,127.6 L555.0,128.7 L555.5,129.7 L556.0,130.8 L556.5,132.0 L557.0,133.2 L557.5,134.4 L558.0,135.6 L558.5,136.8 L559.0,138.0 L559.5,139.3 L560.0,140.5 L560.5,141.8 L561.0,143.0 L561.5,144.3 L562.0,145.5 L562.5,146.8 L563.0,148.0 L563.5,149.2 L564.0,150.4 L564.5,151.5 L565.0,152.7 L565.5,153.8 L566.0,154.9 L566.5,156.0 L567.0,157.1 L567.5,158.2 L568.0,159.2 L568.5,160.2 L569.0,161.1 L569.5,162.1 L570.0,163.0 L570.5,163.9 L571.0,164.8 L571.5,165.6 L572.0,166.4 L572.5,167.2 L573.0,167.9 L573.5,168.7 L574.0,169.4 L574.5,170.1 L575.0,170.7 L575.5,171.3 L576.0,171.9 L576.5,172.5 L577.0,173.1 L577.5,173.6 L578.0,174.1 L578.5,174.6 L579.0,175.1 L579.5,175.5 L580.0,175.9 L580.5,176.4 L581.0,176.7 L581.5,177.1 L582.0,177.5 L582.5,177.8 L583.0,178.1 L583.5,178.4 L584.0,178.7 L584.5,179.0 L585.0,179.3 L585.5,179.5 L586.0,179.7 L586.5,180.0 L587.0,180.2 L587.5,180.4 L588.0,180.6 L588.5,180.8 L589.0,180.9 L589.5,181.1 L590.0,181.3 L590.5,181.4 L591.0,181.6 L591.5,181.7 L592.0,181.8 L592.5,182.0 L593.0,182.1 L593.5,182.2 L594.0,182.3 L594.5,182.4 L595.0,182.5 L595.5,182.6 L596.0,182.7 L596.5,182.8 L597.0,182.9 L597.5,183.0 L598.0,183.0 L598.5,183.1 L599.0,183.2 L599.5,183.3 L600.0,183.3 L600.5,183.4 L601.0,183.5 L601.5,183.5 L602.0,183.6 L602.5,183.6 L603.0,183.7 L603.5,183.7 L604.0,183.8 L604.5,183.8 L605.0,183.9 L605.5,183.9 L606.0,184.0 L606.5,184.0 L607.0,184.1 L607.5,184.1 L608.0,184.2 L608.5,184.2 L609.0,184.2 L609.5,184.3 L610.0,184.3 L610.5,184.4 L611.0,184.4 L611.5,184.4 L612.0,184.5 L612.5,184.5 L613.0,184.5 L613.5,184.6 L614.0,184.6 L614.5,184.6 L615.0,184.7 L615.5,184.7 L616.0,184.7 L616.5,184.7 L617.0,184.8 L617.5,184.8 L618.0,184.8 L618.5,184.8 L619.0,184.9 L619.5,184.9 L620.0,184.9 L620.5,184.9 L621.0,185.0 L621.5,185.0 L622.0,185.0 L622.5,185.0 L623.0,185.1 L623.5,185.1 L624.0,185.1 L624.5,185.1 L625.0,185.1 L625.5,185.2 L626.0,185.2 L626.5,185.2 L627.0,185.2 L627.5,185.2 L628.0,185.3 L628.5,185.3 L629.0,185.3 L629.5,185.3 L630.0,185.3 L630.5,185.4 L631.0,185.4 L631.5,185.4 L632.0,185.4 L632.5,185.4 L633.0,185.4 L633.5,185.4 L634.0,185.5 L634.5,185.5 L635.0,185.5 L635.5,185.5 L636.0,185.5 L636.5,185.5 L637.0,185.5 L637.5,185.6 L638.0,185.6 L638.5,185.6 L639.0,185.6 L639.5,185.6 L640.0,185.6 L640.5,185.6 L641.0,185.6 L641.5,185.7 L642.0,185.7 L642.5,185.7 L643.0,185.7 L643.5,185.7 L644.0,185.7 L644.5,185.7 L645.0,185.7 L645.5,185.7 L646.0,185.8 L646.5,185.8 L647.0,185.8 L647.5,185.8 L648.0,185.8 L648.5,185.8 L649.0,185.8 L649.5,185.8 L650.0,185.8 L650.5,185.8 L651.0,185.9 L651.5,185.9 L652.0,185.9 L652.5,185.9 L653.0,185.9 L653.5,185.9 L654.0,185.9 L654.5,185.9 L655.0,185.9 L655.5,185.9 L656.0,185.9 L656.5,185.9 L657.0,185.9 L657.5,186.0 L658.0,186.0 L658.5,186.0 L659.0,186.0 L659.5,186.0 L660.0,186.0 L660.5,186.0 L661.0,186.0 L661.5,186.0 L662.0,186.0 L662.5,186.0 L663.0,186.0 L663.5,186.0 L664.0,186.0 L664.5,186.0 L665.0,186.1 L665.5,186.1 L666.0,186.1 L666.5,186.1 L667.0,186.1 L667.5,186.1 L668.0,186.1 L668.5,186.1 L669.0,186.1 L669.5,186.1 L670.0,186.1 L670.5,186.1 L671.0,186.1 L671.5,186.1 L672.0,186.1 L672.5,186.1 L673.0,186.1 L673.5,186.1 L674.0,186.2 L674.5,186.2 L675.0,186.2" stroke="#3a7fdc"/>
</g>
<rect x="29.30" y="7.75" width="291.80" height="199.85" fill="none" stroke="#151515" stroke-width="1.8"/>
<rect x="368.80" y="3.80" width="313.10" height="205.90" fill="none" stroke="#151515" stroke-width="1.8"/>
<line x1="50.00" y1="207.60" x2="50.00" y2="204.00" stroke="#151515" stroke-width="1.6"/>
<text x="50.00" y="218.5" class="tk" text-anchor="middle" textLength="15.4" lengthAdjust="spacingAndGlyphs">294</text>
<line x1="91.70" y1="207.60" x2="91.70" y2="204.00" stroke="#151515" stroke-width="1.6"/>
<text x="91.70" y="218.5" class="tk" text-anchor="middle" textLength="15.4" lengthAdjust="spacingAndGlyphs">292</text>
<line x1="133.40" y1="207.60" x2="133.40" y2="204.00" stroke="#151515" stroke-width="1.6"/>
<text x="133.40" y="218.5" class="tk" text-anchor="middle" textLength="15.4" lengthAdjust="spacingAndGlyphs">290</text>
<line x1="175.10" y1="207.60" x2="175.10" y2="204.00" stroke="#151515" stroke-width="1.6"/>
<text x="175.10" y="218.5" class="tk" text-anchor="middle" textLength="15.4" lengthAdjust="spacingAndGlyphs">288</text>
<line x1="216.80" y1="207.60" x2="216.80" y2="204.00" stroke="#151515" stroke-width="1.6"/>
<text x="216.80" y="218.5" class="tk" text-anchor="middle" textLength="15.4" lengthAdjust="spacingAndGlyphs">286</text>
<line x1="258.50" y1="207.60" x2="258.50" y2="204.00" stroke="#151515" stroke-width="1.6"/>
<text x="258.50" y="218.5" class="tk" text-anchor="middle" textLength="15.4" lengthAdjust="spacingAndGlyphs">284</text>
<line x1="300.20" y1="207.60" x2="300.20" y2="204.00" stroke="#151515" stroke-width="1.6"/>
<text x="300.20" y="218.5" class="tk" text-anchor="middle" textLength="15.4" lengthAdjust="spacingAndGlyphs">282</text>
<text x="368.80" y="220.1" class="tk2" text-anchor="middle" textLength="17.2" lengthAdjust="spacingAndGlyphs">540</text>
<line x1="416.94" y1="209.70" x2="416.94" y2="206.10" stroke="#151515" stroke-width="1.6"/>
<text x="416.94" y="220.1" class="tk2" text-anchor="middle" textLength="17.2" lengthAdjust="spacingAndGlyphs">538</text>
<line x1="465.08" y1="209.70" x2="465.08" y2="206.10" stroke="#151515" stroke-width="1.6"/>
<text x="465.08" y="220.1" class="tk2" text-anchor="middle" textLength="17.2" lengthAdjust="spacingAndGlyphs">536</text>
<line x1="513.22" y1="209.70" x2="513.22" y2="206.10" stroke="#151515" stroke-width="1.6"/>
<text x="513.22" y="220.1" class="tk2" text-anchor="middle" textLength="17.2" lengthAdjust="spacingAndGlyphs">534</text>
<line x1="561.36" y1="209.70" x2="561.36" y2="206.10" stroke="#151515" stroke-width="1.6"/>
<text x="561.36" y="220.1" class="tk2" text-anchor="middle" textLength="17.2" lengthAdjust="spacingAndGlyphs">532</text>
<line x1="609.50" y1="209.70" x2="609.50" y2="206.10" stroke="#151515" stroke-width="1.6"/>
<text x="609.50" y="220.1" class="tk2" text-anchor="middle" textLength="17.2" lengthAdjust="spacingAndGlyphs">530</text>
<line x1="657.64" y1="209.70" x2="657.64" y2="206.10" stroke="#151515" stroke-width="1.6"/>
<text x="657.64" y="220.1" class="tk2" text-anchor="middle" textLength="17.2" lengthAdjust="spacingAndGlyphs">528</text>
<text x="122.4" y="237.3" class="ax" textLength="104.7" lengthAdjust="spacingAndGlyphs">Binding Energy (E) (eV)</text>
<text x="468.5" y="239.6" class="ax2" textLength="113.5" lengthAdjust="spacingAndGlyphs">Binding Energy (E) (eV)</text>
<text transform="translate(16.0,130.3) rotate(-90)" class="yl" textLength="54" lengthAdjust="spacingAndGlyphs">Counts (/sec)</text>
<text transform="translate(357.0,130.7) rotate(-90)" class="yl2" textLength="53.5" lengthAdjust="spacingAndGlyphs">Counts (/sec)</text>
<text x="1.9" y="24.4" class="pl">(a)</text>
<text x="336.4" y="19.6" class="pl2">(b)</text>
<rect x="43.80" y="23.80" width="102.80" height="56.60" fill="#fff" stroke="#959595" stroke-width="1.2"/>
<line x1="44.80" y1="30.20" x2="69.00" y2="30.20" stroke="#7c7c7c" stroke-width="1.5"/>
<text x="71.00" y="33.20" class="lg" textLength="21.0" lengthAdjust="spacingAndGlyphs">(GO)</text>
<line x1="44.80" y1="41.30" x2="69.00" y2="41.30" stroke="#ee7b7d" stroke-width="1.5"/>
<text x="71.00" y="44.30" class="lg" textLength="69.5" lengthAdjust="spacingAndGlyphs">(C-O-C 287.40eV)</text>
<line x1="44.80" y1="52.40" x2="69.00" y2="52.40" stroke="#5b93e3" stroke-width="1.5"/>
<text x="71.00" y="55.40" class="lg" textLength="73.8" lengthAdjust="spacingAndGlyphs">(sp3 C-C 285.35eV)</text>
<line x1="44.80" y1="63.60" x2="69.00" y2="63.60" stroke="#63bd86" stroke-width="1.5"/>
<text x="71.00" y="66.60" class="lg" textLength="68.6" lengthAdjust="spacingAndGlyphs">(-COOH 289.1eV)</text>
<line x1="44.80" y1="74.90" x2="69.00" y2="74.90" stroke="#c7a2ee" stroke-width="1.5"/>
<text x="71.00" y="77.90" class="lg" textLength="73.8" lengthAdjust="spacingAndGlyphs">(sp2 C-C 284.50eV)</text>
<rect x="557.90" y="17.40" width="103.70" height="23.30" fill="#fff" stroke="#959595" stroke-width="1.2"/>
<line x1="559.00" y1="22.80" x2="585.00" y2="22.80" stroke="#ee7b7d" stroke-width="1.5"/>
<text x="587.30" y="26.00" class="lg2" textLength="64.0" lengthAdjust="spacingAndGlyphs">(C-O 533.60eV)</text>
<line x1="559.00" y1="34.30" x2="585.00" y2="34.30" stroke="#5b93e3" stroke-width="1.5"/>
<text x="587.30" y="37.50" class="lg2" textLength="60.0" lengthAdjust="spacingAndGlyphs">(C=O 532.6eV)</text>
</svg>
</body></html>
